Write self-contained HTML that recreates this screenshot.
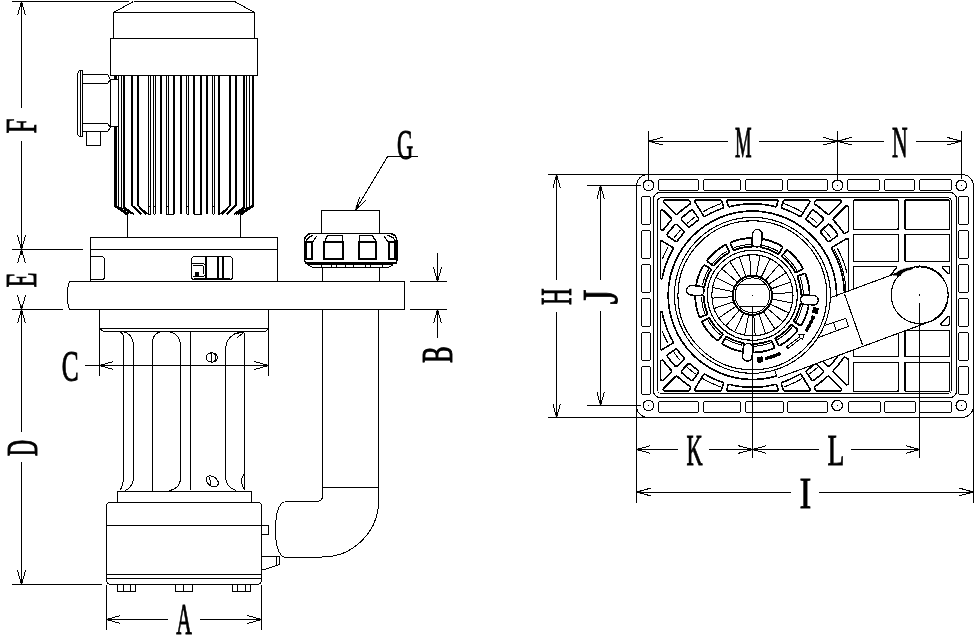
<!DOCTYPE html>
<html><head><meta charset="utf-8"><title>Pump dimensions</title>
<style>
html,body{margin:0;padding:0;background:#fff;}
body{width:976px;height:640px;overflow:hidden;font-family:"Liberation Serif",serif;}
svg{display:block;will-change:transform;filter:grayscale(1);}
text{font-family:"Liberation Serif",serif;}
</style></head><body>
<svg width="976" height="640" viewBox="0 0 976 640" fill="none" stroke="#000" stroke-linecap="butt" stroke-linejoin="round" shape-rendering="crispEdges">
<rect x="0" y="0" width="976" height="640" fill="#fff" stroke="none"/>
<g id="leftview">
<path d="M133.5,1.5 L234.5,1.5 L254.5,12.5 L254.5,38.5 M113.5,38.5 L113.5,12.5 L133.5,1.5 M113.5,12.5 L254.5,12.5" stroke-width="1.0" fill="none" />
<rect x="110.50" y="38.50" width="147.00" height="37.00" rx="0" stroke-width="1" fill="none"/>
<line x1="148.50" y1="75.00" x2="148.50" y2="214.30" stroke-width="1"/>
<line x1="150.50" y1="75.00" x2="150.50" y2="214.30" stroke-width="1"/>
<line x1="148.70" y1="206.50" x2="150.60" y2="206.50" stroke-width="1"/>
<line x1="148.70" y1="214.50" x2="150.60" y2="214.50" stroke-width="1"/>
<line x1="153.50" y1="75.00" x2="153.50" y2="214.30" stroke-width="1"/>
<line x1="155.50" y1="75.00" x2="155.50" y2="214.30" stroke-width="1"/>
<line x1="153.50" y1="206.50" x2="155.40" y2="206.50" stroke-width="1"/>
<line x1="153.50" y1="214.50" x2="155.40" y2="214.50" stroke-width="1"/>
<line x1="166.50" y1="75.00" x2="166.50" y2="214.30" stroke-width="1"/>
<line x1="168.50" y1="75.00" x2="168.50" y2="214.30" stroke-width="1"/>
<line x1="166.40" y1="206.50" x2="168.50" y2="206.50" stroke-width="1"/>
<line x1="166.40" y1="214.50" x2="168.50" y2="214.50" stroke-width="1"/>
<line x1="186.50" y1="75.00" x2="186.50" y2="214.30" stroke-width="1"/>
<line x1="188.50" y1="75.00" x2="188.50" y2="214.30" stroke-width="1"/>
<line x1="186.50" y1="206.50" x2="188.60" y2="206.50" stroke-width="1"/>
<line x1="186.50" y1="214.50" x2="188.60" y2="214.50" stroke-width="1"/>
<line x1="200.50" y1="75.00" x2="200.50" y2="214.30" stroke-width="1"/>
<line x1="201.50" y1="75.00" x2="201.50" y2="214.30" stroke-width="1"/>
<line x1="200.20" y1="206.50" x2="201.60" y2="206.50" stroke-width="1"/>
<line x1="200.20" y1="214.50" x2="201.60" y2="214.50" stroke-width="1"/>
<line x1="212.50" y1="75.00" x2="212.50" y2="214.30" stroke-width="1"/>
<line x1="214.50" y1="75.00" x2="214.50" y2="214.30" stroke-width="1"/>
<line x1="212.50" y1="206.50" x2="214.40" y2="206.50" stroke-width="1"/>
<line x1="212.50" y1="214.50" x2="214.40" y2="214.50" stroke-width="1"/>
<line x1="218.50" y1="75.00" x2="218.50" y2="214.30" stroke-width="1"/>
<line x1="219.50" y1="75.00" x2="219.50" y2="214.30" stroke-width="1"/>
<line x1="218.10" y1="206.50" x2="219.90" y2="206.50" stroke-width="1"/>
<line x1="218.10" y1="214.50" x2="219.90" y2="214.50" stroke-width="1"/>
<line x1="161.00" y1="75.00" x2="161.00" y2="214.30" stroke-width="2"/>
<line x1="174.00" y1="75.00" x2="174.00" y2="214.30" stroke-width="2"/>
<line x1="181.00" y1="75.00" x2="181.00" y2="214.30" stroke-width="2"/>
<line x1="194.00" y1="75.00" x2="194.00" y2="214.30" stroke-width="2"/>
<line x1="207.00" y1="75.00" x2="207.00" y2="214.30" stroke-width="2"/>
<line x1="168.50" y1="214.50" x2="173.90" y2="214.50" stroke-width="1"/>
<line x1="194.10" y1="214.50" x2="200.20" y2="214.50" stroke-width="1"/>
<path d="M115.30,75 L115.30,206.00 L127.30,214.3" stroke-width="2.4" fill="none" />
<path d="M118.5,75.5 L118.5,206.5 L129.5,214.5" stroke-width="1.0" fill="none" />
<path d="M121.5,75.5 L121.5,207.5 L132.5,214.5" stroke-width="1.0" fill="none" />
<path d="M124.00,75 L124.00,207.50 L134.00,214.3" stroke-width="1.8" fill="none" />
<path d="M132.20,75 L132.20,205.50 L141.20,214.3" stroke-width="1.8" fill="none" />
<path d="M138.00,75 L138.00,205.50 L146.50,214.3" stroke-width="2.0" fill="none" />
<path d="M252.70,75 L252.70,206.00 L240.70,214.3" stroke-width="2.4" fill="none" />
<path d="M249.5,75.5 L249.5,206.5 L238.5,214.5" stroke-width="1.0" fill="none" />
<path d="M246.5,75.5 L246.5,207.5 L236.5,214.5" stroke-width="1.0" fill="none" />
<path d="M244.00,75 L244.00,207.50 L234.00,214.3" stroke-width="1.8" fill="none" />
<path d="M235.80,75 L235.80,205.50 L226.80,214.3" stroke-width="1.8" fill="none" />
<path d="M230.00,75 L230.00,205.50 L221.50,214.3" stroke-width="2.0" fill="none" />
<line x1="144.50" y1="210.50" x2="148.70" y2="214.30" stroke-width="1.0"/>
<line x1="223.50" y1="210.50" x2="219.90" y2="214.30" stroke-width="1.0"/>
<line x1="114.50" y1="206.00" x2="127.00" y2="214.30" stroke-width="1.6"/>
<line x1="253.50" y1="206.00" x2="241.00" y2="214.30" stroke-width="1.6"/>
<line x1="127.50" y1="214.30" x2="127.50" y2="237.60" stroke-width="1"/>
<line x1="240.50" y1="214.30" x2="240.50" y2="237.60" stroke-width="1"/>
<path d="M82.5,70.5 L79.5,70.5 Q77.5,72.5 77.5,75.5 L77.5,132.5 Q77.5,135.5 79.5,136.5 L82.5,136.5 Z" stroke-width="1.0" fill="none" />
<line x1="80.50" y1="71.00" x2="80.50" y2="136.00" stroke-width="1"/>
<path d="M82.5,74.5 L107.5,74.5 L110.5,79.5 L107.5,83.5 L82.5,83.5" stroke-width="1.0" fill="none" />
<path d="M82.5,123.5 L107.5,123.5 L110.5,127.5 L107.5,131.5 L82.5,131.5" stroke-width="1.0" fill="none" />
<rect x="110.50" y="79.50" width="8.00" height="47.00" rx="0" stroke-width="1" fill="#fff"/>
<rect x="86.50" y="131.50" width="14.00" height="14.00" rx="0" stroke-width="1" fill="none"/>
<rect x="90.50" y="237.50" width="187.00" height="44.00" rx="0" stroke-width="1" fill="none"/>
<line x1="90.50" y1="249.50" x2="277.60" y2="249.50" stroke-width="1"/>
<path d="M90.5,256.5 L101.5,256.5 Q104.5,256.5 104.5,259.5 L104.5,276.5 Q104.5,279.5 101.5,279.5 L90.5,279.5" stroke-width="1.0" fill="none" />
<rect x="191.50" y="256.50" width="41.00" height="23.00" rx="3.0" stroke-width="1" fill="none"/>
<line x1="194.00" y1="279.00" x2="230.00" y2="279.00" stroke-width="2"/>
<line x1="206.00" y1="257.00" x2="206.00" y2="279.50" stroke-width="2"/>
<line x1="218.00" y1="257.00" x2="218.00" y2="279.50" stroke-width="2"/>
<line x1="223.00" y1="257.00" x2="223.00" y2="279.50" stroke-width="2"/>
<path d="M191.5,263.5 L203.5,263.5 L205.5,265.5 L205.5,274.5 L203.5,276.5 L192.5,276.5" stroke-width="1.0" fill="none" />
<path d="M192.5,265.5 L202.5,265.5 L203.5,266.5 L203.5,273.5 L202.5,274.5" stroke-width="1.0" fill="none" />
<rect x="194.50" y="271.50" width="4.00" height="5.00" rx="0" stroke-width="0" fill="#000"/>
<path d="M69.5,281.5 L404.5,281.5 L404.5,309.5 L69.5,309.5 L68.5,306.5 L67.5,300.5 L67.5,290.5 L68.5,284.5 Z" stroke-width="1.0" fill="none" />
<rect x="321.50" y="210.50" width="58.00" height="23.00" rx="0" stroke-width="1" fill="none"/>
<line x1="322.50" y1="267.00" x2="322.50" y2="281.20" stroke-width="1"/>
<line x1="379.50" y1="267.00" x2="379.50" y2="281.20" stroke-width="1"/>
<path d="M311,233.5 L390.5,233.5 Q397,234.5 397,242 L397,259 Q397,263.5 393,263.8 L308.5,263.8 Q304.4,263.5 304.4,259 L304.4,242 Q304.4,234.5 311,233.5 Z" stroke-width="1.5" fill="none" />
<line x1="305.00" y1="263.00" x2="396.50" y2="263.00" stroke-width="2"/>
<path d="M307.5,264.5 L312.5,267.5 L388.5,267.5 L393.5,264.5" stroke-width="1.0" fill="none" />
<line x1="321.50" y1="264.00" x2="321.50" y2="267.50" stroke-width="1"/>
<line x1="331.50" y1="264.00" x2="331.50" y2="267.50" stroke-width="1"/>
<line x1="336.50" y1="264.00" x2="336.50" y2="267.50" stroke-width="1"/>
<line x1="345.50" y1="264.00" x2="345.50" y2="267.50" stroke-width="1"/>
<line x1="353.50" y1="264.00" x2="353.50" y2="267.50" stroke-width="1"/>
<line x1="365.50" y1="264.00" x2="365.50" y2="267.50" stroke-width="1"/>
<line x1="370.50" y1="264.00" x2="370.50" y2="267.50" stroke-width="1"/>
<line x1="382.50" y1="264.00" x2="382.50" y2="267.50" stroke-width="1"/>
<rect x="306.00" y="242.00" width="6.00" height="17.00" rx="0" stroke-width="2" fill="none"/>
<rect x="324.00" y="242.00" width="19.00" height="17.00" rx="0" stroke-width="2" fill="none"/>
<rect x="359.00" y="242.00" width="17.00" height="17.00" rx="0" stroke-width="2" fill="none"/>
<rect x="389.00" y="242.00" width="6.00" height="17.00" rx="0" stroke-width="2" fill="none"/>
<path d="M324.5,242.5 L327.5,235.5 L342.5,235.5 L342.5,242.5" stroke-width="1.3" fill="none" />
<path d="M376.5,242.5 L372.5,235.5 L359.5,235.5 L359.5,242.5" stroke-width="1.3" fill="none" />
<path d="M306.5,242.5 Q306.5,236.5 313.5,235.5" stroke-width="1.3" fill="none" />
<path d="M312.5,242.5 L316.5,236.5" stroke-width="1.1" fill="none" />
<path d="M395.5,242.5 Q394.5,236.5 387.5,235.5" stroke-width="1.3" fill="none" />
<path d="M388.5,242.5 L384.5,236.5" stroke-width="1.1" fill="none" />
<path d="M322.5,309.5 L322.5,495.5 Q322.5,501.5 316.5,501.5 L284.5,501.5" stroke-width="1.0" fill="none" />
<path d="M378.8,309.4 L378.8,500 A56.5,57 0 0 1 322.3,557 L284,557" stroke-width="1.0" fill="none" />
<line x1="322.50" y1="487.50" x2="378.80" y2="487.50" stroke-width="1"/>
<path d="M284.5,501.5 Q275.5,505.5 275.5,529.5 Q275.5,553.5 284.5,557.5" stroke-width="1.0" fill="none" />
<line x1="99.50" y1="309.40" x2="99.50" y2="375.50" stroke-width="1"/>
<line x1="268.50" y1="309.40" x2="268.50" y2="375.50" stroke-width="1"/>
<line x1="99.50" y1="328.50" x2="268.40" y2="328.50" stroke-width="1"/>
<path d="M99.5,328.5 L103.5,331.5 L265.5,331.5 L268.5,328.5" stroke-width="1.0" fill="none" />
<path d="M118.5,331.5 Q123.5,332.5 123.5,337.5 L123.5,476.5 Q123.5,486.5 119.5,490.5" stroke-width="1.0" fill="none" />
<path d="M122.5,331.5 Q133.5,333.5 133.5,347.5 L133.5,476.5 Q133.5,486.5 125.5,490.5" stroke-width="1.0" fill="none" />
<path d="M162.5,331.5 Q152.5,332.5 152.5,342.5 L152.5,490.5" stroke-width="1.0" fill="none" />
<path d="M166.5,331.5 Q180.5,332.5 180.5,346.5 L180.5,477.5 Q180.5,488.5 169.5,490.5" stroke-width="1.0" fill="none" />
<line x1="190.50" y1="331.40" x2="190.50" y2="490.00" stroke-width="1"/>
<path d="M244.5,331.5 Q225.5,333.5 225.5,350.5 L225.5,476.5 Q225.5,487.5 236.5,490.5" stroke-width="1.0" fill="none" />
<line x1="244.50" y1="333.00" x2="244.50" y2="490.00" stroke-width="1"/>
<path d="M244.5,473.5 Q238.5,480.5 244.5,489.5" stroke-width="1.0" fill="none" />
<path d="M237.5,337.5 L243.5,332.5 L234.5,333.5" stroke-width="1.0" fill="none" />
<ellipse cx="211.80" cy="357.50" rx="5.60" ry="4.70" stroke-width="1.0" fill="none"/>
<line x1="211.50" y1="353.00" x2="211.50" y2="362.00" stroke-width="1"/>
<path d="M214.5,353.5 Q216.5,357.5 214.5,361.5" stroke-width="1.0" fill="none" />
<ellipse cx="212.20" cy="481.30" rx="6.80" ry="4.60" stroke-width="1.0" fill="none" transform="rotate(35 212.20 481.30)"/>
<line x1="209.50" y1="476.80" x2="211.00" y2="485.20" stroke-width="1.0"/>
<path d="M117.5,502.5 L117.5,491.5 L251.5,491.5 L251.5,502.5" stroke-width="1.0" fill="none" />
<path d="M109.5,502.5 L258.5,502.5 Q261.5,502.5 261.5,506.5 L261.5,579.5 Q261.5,584.5 256.5,584.5 L111.5,584.5 Q106.5,584.5 106.5,579.5 L106.5,506.5 Q106.5,502.5 109.5,502.5 Z" stroke-width="1.0" fill="none" />
<line x1="106.40" y1="525.50" x2="261.40" y2="525.50" stroke-width="1"/>
<line x1="106.40" y1="574.50" x2="261.40" y2="574.50" stroke-width="1"/>
<line x1="106.40" y1="578.50" x2="261.40" y2="578.50" stroke-width="1"/>
<rect x="261.50" y="525.50" width="7.00" height="9.00" rx="0" stroke-width="1" fill="none"/>
<path d="M261.5,556.5 L279.5,556.5 L279.5,564.5 L276.5,565.5 L264.5,569.5 L261.5,569.5" stroke-width="1.0" fill="none" />
<line x1="276.50" y1="557.00" x2="276.50" y2="565.00" stroke-width="1"/>
<rect x="117.50" y="584.50" width="18.00" height="7.00" rx="0" stroke-width="1" fill="none"/>
<line x1="123.50" y1="584.50" x2="123.50" y2="591.20" stroke-width="1"/>
<line x1="130.50" y1="584.50" x2="130.50" y2="591.20" stroke-width="1"/>
<rect x="175.50" y="584.50" width="17.00" height="7.00" rx="0" stroke-width="1" fill="none"/>
<line x1="183.50" y1="584.50" x2="183.50" y2="591.20" stroke-width="1"/>
<rect x="232.50" y="584.50" width="18.00" height="7.00" rx="0" stroke-width="1" fill="none"/>
<line x1="237.50" y1="584.50" x2="237.50" y2="591.20" stroke-width="1"/>
<line x1="245.50" y1="584.50" x2="245.50" y2="591.20" stroke-width="1"/>
</g>
<g id="leftdims">
<line x1="12.00" y1="1.50" x2="128.80" y2="1.50" stroke-width="1"/>
<line x1="12.20" y1="249.50" x2="82.50" y2="249.50" stroke-width="1"/>
<line x1="12.20" y1="309.50" x2="62.80" y2="309.50" stroke-width="1"/>
<line x1="12.20" y1="584.50" x2="101.80" y2="584.50" stroke-width="1"/>
<line x1="21.50" y1="1.50" x2="21.50" y2="108.00" stroke-width="1"/>
<line x1="21.50" y1="141.00" x2="21.50" y2="249.50" stroke-width="1"/>
<path d="M17.5,15.5 L21.5,1.5 L25.5,15.5" stroke-width="1.0" fill="none" />
<path d="M21.5,1.5 L20.5,6.5 L22.5,6.5 Z" stroke-width="0.6" fill="#000" />
<path d="M25.5,235.5 L21.5,249.5 L17.5,235.5" stroke-width="1.0" fill="none" />
<path d="M21.5,249.5 L22.5,245.5 L20.5,245.5 Z" stroke-width="0.6" fill="#000" />
<g transform="translate(21.90,125.95) rotate(-90) scale(0.5995,0.9688)"><text x="0" y="14.76" text-anchor="middle" font-size="45.0" font-weight="normal" stroke="#000" stroke-width="0.75" vector-effect="non-scaling-stroke" stroke-linejoin="miter" fill="#000">F</text></g>
<path d="M17.5,263.5 L21.5,249.5 L25.5,263.5" stroke-width="1.0" fill="none" />
<path d="M21.5,249.5 L20.5,254.5 L22.5,254.5 Z" stroke-width="0.6" fill="#000" />
<path d="M25.5,295.5 L21.5,309.5 L17.5,295.5" stroke-width="1.0" fill="none" />
<path d="M21.5,309.5 L22.5,305.5 L20.5,305.5 Z" stroke-width="0.6" fill="#000" />
<g transform="translate(21.90,280.00) rotate(-90) scale(0.5456,0.9688)"><text x="0" y="14.76" text-anchor="middle" font-size="45.0" font-weight="normal" stroke="#000" stroke-width="0.75" vector-effect="non-scaling-stroke" stroke-linejoin="miter" fill="#000">E</text></g>
<line x1="21.50" y1="309.50" x2="21.50" y2="432.00" stroke-width="1"/>
<line x1="21.50" y1="461.50" x2="21.50" y2="584.30" stroke-width="1"/>
<path d="M17.5,323.5 L21.5,309.5 L25.5,323.5" stroke-width="1.0" fill="none" />
<path d="M21.5,309.5 L20.5,314.5 L22.5,314.5 Z" stroke-width="0.6" fill="#000" />
<path d="M25.5,570.5 L21.5,584.5 L17.5,570.5" stroke-width="1.0" fill="none" />
<path d="M21.5,584.5 L22.5,579.5 L20.5,579.5 Z" stroke-width="0.6" fill="#000" />
<g transform="translate(22.35,448.15) rotate(-90) scale(0.5017,0.9688)"><text x="0" y="14.76" text-anchor="middle" font-size="45.0" font-weight="normal" stroke="#000" stroke-width="0.75" vector-effect="non-scaling-stroke" stroke-linejoin="miter" fill="#000">D</text></g>
<line x1="85.00" y1="365.50" x2="268.40" y2="365.50" stroke-width="1"/>
<path d="M113.5,369.5 L99.5,365.5 L113.5,361.5" stroke-width="1.0" fill="none" />
<path d="M99.5,365.5 L104.5,366.5 L104.5,364.5 Z" stroke-width="0.6" fill="#000" />
<path d="M254.5,361.5 L268.5,365.5 L254.5,369.5" stroke-width="1.0" fill="none" />
<path d="M268.5,365.5 L263.5,364.5 L263.5,366.5 Z" stroke-width="0.6" fill="#000" />
<g transform="translate(70.10,366.75) rotate(0) scale(0.5631,0.9790)"><text x="0" y="14.76" text-anchor="middle" font-size="45.0" font-weight="normal" stroke="#000" stroke-width="0.75" vector-effect="non-scaling-stroke" stroke-linejoin="miter" fill="#000">C</text></g>
<line x1="106.50" y1="585.00" x2="106.50" y2="629.50" stroke-width="1"/>
<line x1="261.50" y1="585.00" x2="261.50" y2="629.50" stroke-width="1"/>
<line x1="106.30" y1="619.50" x2="167.70" y2="619.50" stroke-width="1"/>
<line x1="200.00" y1="619.50" x2="261.40" y2="619.50" stroke-width="1"/>
<path d="M120.5,623.5 L106.5,619.5 L120.5,615.5" stroke-width="1.0" fill="none" />
<path d="M106.5,619.5 L110.5,620.5 L110.5,618.5 Z" stroke-width="0.6" fill="#000" />
<path d="M247.5,615.5 L261.5,619.5 L247.5,623.5" stroke-width="1.0" fill="none" />
<path d="M261.5,619.5 L256.5,618.5 L256.5,620.5 Z" stroke-width="0.6" fill="#000" />
<g transform="translate(184.00,619.85) rotate(0) scale(0.4801,0.9688)"><text x="0" y="14.76" text-anchor="middle" font-size="45.0" font-weight="normal" stroke="#000" stroke-width="0.75" vector-effect="non-scaling-stroke" stroke-linejoin="miter" fill="#000">A</text></g>
<line x1="410.00" y1="281.50" x2="447.00" y2="281.50" stroke-width="1"/>
<line x1="410.00" y1="309.50" x2="447.00" y2="309.50" stroke-width="1"/>
<line x1="437.50" y1="253.00" x2="437.50" y2="281.40" stroke-width="1"/>
<line x1="437.50" y1="309.40" x2="437.50" y2="337.50" stroke-width="1"/>
<path d="M441.5,267.5 L437.5,281.5 L433.5,267.5" stroke-width="1.0" fill="none" />
<path d="M437.5,281.5 L438.5,276.5 L436.5,276.5 Z" stroke-width="0.6" fill="#000" />
<path d="M433.5,323.5 L437.5,309.5 L441.5,323.5" stroke-width="1.0" fill="none" />
<path d="M437.5,309.5 L436.5,313.5 L438.5,313.5 Z" stroke-width="0.6" fill="#000" />
<g transform="translate(437.75,354.75) rotate(-90) scale(0.5531,0.9688)"><text x="0" y="14.76" text-anchor="middle" font-size="45.0" font-weight="normal" stroke="#000" stroke-width="0.75" vector-effect="non-scaling-stroke" stroke-linejoin="miter" fill="#000">B</text></g>
<line x1="388.00" y1="156.50" x2="417.50" y2="156.50" stroke-width="1"/>
<line x1="388.00" y1="156.00" x2="355.60" y2="210.00" stroke-width="1.0"/>
<path d="M365.5,200.5 L355.5,210.5 L359.5,197.5" stroke-width="1.0" fill="none" />
<path d="M355.5,210.5 L358.5,206.5 L356.5,205.5 Z" stroke-width="0.6" fill="#000" />
<g transform="translate(405.00,145.30) rotate(0) scale(0.4986,0.9214)"><text x="0" y="14.76" text-anchor="middle" font-size="45.0" font-weight="normal" stroke="#000" stroke-width="0.75" vector-effect="non-scaling-stroke" stroke-linejoin="miter" fill="#000">G</text></g>
</g>
<g id="plan">
<rect x="636.50" y="174.50" width="337.00" height="243.00" rx="11.5" stroke-width="1" fill="none"/>
<circle cx="648.50" cy="185.40" r="5.30" stroke-width="1.2" fill="none"/>
<rect x="647.90" y="184.80" width="1.20" height="1.20" rx="0" stroke-width="0" fill="#000"/>
<circle cx="837.50" cy="185.40" r="5.30" stroke-width="1.2" fill="none"/>
<rect x="836.90" y="184.80" width="1.20" height="1.20" rx="0" stroke-width="0" fill="#000"/>
<circle cx="961.30" cy="185.40" r="5.30" stroke-width="1.2" fill="none"/>
<rect x="960.70" y="184.80" width="1.20" height="1.20" rx="0" stroke-width="0" fill="#000"/>
<circle cx="648.50" cy="405.50" r="5.30" stroke-width="1.2" fill="none"/>
<rect x="647.90" y="404.90" width="1.20" height="1.20" rx="0" stroke-width="0" fill="#000"/>
<circle cx="837.20" cy="405.50" r="5.30" stroke-width="1.2" fill="none"/>
<rect x="836.60" y="404.90" width="1.20" height="1.20" rx="0" stroke-width="0" fill="#000"/>
<circle cx="961.30" cy="405.50" r="5.30" stroke-width="1.2" fill="none"/>
<rect x="960.70" y="404.90" width="1.20" height="1.20" rx="0" stroke-width="0" fill="#000"/>
<rect x="653.50" y="192.50" width="303.00" height="205.00" rx="6.5" stroke-width="1" fill="none"/>
<rect x="657.50" y="197.50" width="294.00" height="196.00" rx="4" stroke-width="1" fill="none"/>
<rect x="658.50" y="179.50" width="40.00" height="11.00" rx="1.6" stroke-width="1" fill="none"/>
<rect x="703.50" y="179.50" width="37.00" height="11.00" rx="1.6" stroke-width="1" fill="none"/>
<rect x="745.50" y="179.50" width="37.00" height="11.00" rx="1.6" stroke-width="1" fill="none"/>
<rect x="787.50" y="179.50" width="40.00" height="11.00" rx="1.6" stroke-width="1" fill="none"/>
<rect x="847.50" y="179.50" width="32.00" height="11.00" rx="1.6" stroke-width="1" fill="none"/>
<rect x="884.50" y="179.50" width="30.00" height="11.00" rx="1.6" stroke-width="1" fill="none"/>
<rect x="919.50" y="179.50" width="32.00" height="11.00" rx="1.6" stroke-width="1" fill="none"/>
<rect x="658.50" y="401.50" width="40.00" height="11.00" rx="1.6" stroke-width="1" fill="none"/>
<rect x="703.50" y="401.50" width="37.00" height="11.00" rx="1.6" stroke-width="1" fill="none"/>
<rect x="745.50" y="401.50" width="38.00" height="11.00" rx="1.6" stroke-width="1" fill="none"/>
<rect x="787.50" y="401.50" width="40.00" height="11.00" rx="1.6" stroke-width="1" fill="none"/>
<rect x="848.50" y="401.50" width="32.00" height="11.00" rx="1.6" stroke-width="1" fill="none"/>
<rect x="884.50" y="401.50" width="31.00" height="11.00" rx="1.6" stroke-width="1" fill="none"/>
<rect x="919.50" y="401.50" width="32.00" height="11.00" rx="1.6" stroke-width="1" fill="none"/>
<rect x="641.50" y="196.50" width="9.00" height="28.00" rx="1.6" stroke-width="1" fill="none"/>
<rect x="958.50" y="196.50" width="10.00" height="28.00" rx="1.6" stroke-width="1" fill="none"/>
<rect x="641.50" y="230.50" width="9.00" height="28.00" rx="1.6" stroke-width="1" fill="none"/>
<rect x="958.50" y="230.50" width="10.00" height="28.00" rx="1.6" stroke-width="1" fill="none"/>
<rect x="641.50" y="264.50" width="9.00" height="28.00" rx="1.6" stroke-width="1" fill="none"/>
<rect x="958.50" y="264.50" width="10.00" height="28.00" rx="1.6" stroke-width="1" fill="none"/>
<rect x="641.50" y="298.50" width="9.00" height="28.00" rx="1.6" stroke-width="1" fill="none"/>
<rect x="958.50" y="298.50" width="10.00" height="28.00" rx="1.6" stroke-width="1" fill="none"/>
<rect x="641.50" y="332.50" width="9.00" height="28.00" rx="1.6" stroke-width="1" fill="none"/>
<rect x="958.50" y="332.50" width="10.00" height="28.00" rx="1.6" stroke-width="1" fill="none"/>
<rect x="641.50" y="366.50" width="9.00" height="28.00" rx="1.6" stroke-width="1" fill="none"/>
<rect x="958.50" y="366.50" width="10.00" height="28.00" rx="1.6" stroke-width="1" fill="none"/>
<path d="M898.30,201.10 L898.26,200.76 L898.13,200.45 L897.92,200.18 L897.65,199.97 L897.34,199.84 L897.00,199.80 L854.80,199.80 L854.46,199.84 L854.15,199.97 L853.88,200.18 L853.67,200.45 L853.54,200.76 L853.50,201.10 L853.50,228.20 L853.54,228.54 L853.67,228.85 L853.88,229.12 L854.15,229.33 L854.46,229.46 L854.80,229.50 L897.00,229.50 L897.34,229.46 L897.65,229.33 L897.92,229.12 L898.13,228.85 L898.26,228.54 L898.30,228.20 Z M898.30,235.60 L898.26,235.26 L898.13,234.95 L897.92,234.68 L897.65,234.47 L897.34,234.34 L897.00,234.30 L854.80,234.30 L854.46,234.34 L854.15,234.47 L853.88,234.68 L853.67,234.95 L853.54,235.26 L853.50,235.60 L853.50,260.30 L853.54,260.64 L853.67,260.95 L853.88,261.22 L854.15,261.43 L854.46,261.56 L854.80,261.60 L897.00,261.60 L897.34,261.56 L897.65,261.43 L897.92,261.22 L898.13,260.95 L898.26,260.64 L898.30,260.30 Z M896.37,268.65 L896.59,268.38 L896.73,268.07 L896.78,267.73 L896.74,267.39 L896.62,267.07 L896.41,266.79 L896.14,266.58 L895.82,266.45 L895.48,266.40 L854.80,266.40 L854.46,266.44 L854.15,266.57 L853.88,266.78 L853.67,267.05 L853.54,267.36 L853.50,267.70 L853.50,292.70 L853.54,293.04 L853.67,293.35 L853.88,293.62 L854.15,293.83 L854.46,293.96 L854.80,294.00 L883.27,294.00 L883.60,293.96 L883.91,293.83 L884.18,293.63 L884.39,293.37 L884.52,293.07 L884.57,292.74 L884.57,292.72 L884.58,292.68 L884.80,290.43 L884.80,290.38 L885.17,288.15 L885.18,288.11 L885.69,285.91 L885.71,285.87 L886.36,283.71 L886.38,283.67 L887.17,281.55 L887.19,281.51 L888.12,279.45 L888.14,279.41 L889.21,277.42 L889.23,277.38 L890.42,275.46 L890.44,275.43 L891.76,273.59 L891.79,273.56 L893.22,271.81 L893.25,271.78 L894.80,270.13 L894.83,270.10 Z M854.80,298.80 L854.46,298.84 L854.15,298.97 L853.88,299.18 L853.67,299.45 L853.54,299.76 L853.50,300.10 L853.50,323.90 L853.54,324.24 L853.67,324.55 L853.88,324.82 L854.15,325.03 L854.46,325.16 L854.80,325.20 L897.00,325.20 L897.34,325.16 L897.65,325.03 L897.92,324.82 L898.13,324.55 L898.26,324.24 L898.30,323.90 L898.30,323.56 L898.24,323.19 L898.08,322.84 L897.82,322.56 L896.51,321.48 L896.48,321.45 L894.83,319.90 L894.80,319.87 L893.25,318.22 L893.22,318.19 L891.79,316.44 L891.76,316.41 L890.44,314.57 L890.42,314.54 L889.23,312.62 L889.21,312.58 L888.14,310.59 L888.12,310.55 L887.19,308.49 L887.17,308.45 L886.38,306.33 L886.36,306.29 L885.71,304.13 L885.69,304.09 L885.18,301.89 L885.17,301.85 L884.85,299.89 L884.74,299.54 L884.54,299.24 L884.26,299.00 L883.93,298.85 L883.57,298.80 Z M898.30,331.70 L898.26,331.36 L898.13,331.05 L897.92,330.78 L897.65,330.57 L897.34,330.44 L897.00,330.40 L854.80,330.40 L854.46,330.44 L854.15,330.57 L853.88,330.78 L853.67,331.05 L853.54,331.36 L853.50,331.70 L853.50,355.40 L853.54,355.74 L853.67,356.05 L853.88,356.32 L854.15,356.53 L854.46,356.66 L854.80,356.70 L897.00,356.70 L897.34,356.66 L897.65,356.53 L897.92,356.32 L898.13,356.05 L898.26,355.74 L898.30,355.40 Z M898.30,363.70 L898.26,363.36 L898.13,363.05 L897.92,362.78 L897.65,362.57 L897.34,362.44 L897.00,362.40 L854.80,362.40 L854.46,362.44 L854.15,362.57 L853.88,362.78 L853.67,363.05 L853.54,363.36 L853.50,363.70 L853.50,390.20 L853.54,390.54 L853.67,390.85 L853.88,391.12 L854.15,391.33 L854.46,391.46 L854.80,391.50 L897.00,391.50 L897.34,391.46 L897.65,391.33 L897.92,391.12 L898.13,390.85 L898.26,390.54 L898.30,390.20 Z M949.50,201.10 L949.46,200.76 L949.33,200.45 L949.12,200.18 L948.85,199.97 L948.54,199.84 L948.20,199.80 L906.10,199.80 L905.76,199.84 L905.45,199.97 L905.18,200.18 L904.97,200.45 L904.84,200.76 L904.80,201.10 L904.80,228.20 L904.84,228.54 L904.97,228.85 L905.18,229.12 L905.45,229.33 L905.76,229.46 L906.10,229.50 L948.20,229.50 L948.54,229.46 L948.85,229.33 L949.12,229.12 L949.33,228.85 L949.46,228.54 L949.50,228.20 Z M949.50,235.60 L949.46,235.26 L949.33,234.95 L949.12,234.68 L948.85,234.47 L948.54,234.34 L948.20,234.30 L906.10,234.30 L905.76,234.34 L905.45,234.47 L905.18,234.68 L904.97,234.95 L904.84,235.26 L904.80,235.60 L904.80,260.30 L904.84,260.64 L904.97,260.95 L905.18,261.22 L905.45,261.43 L905.76,261.56 L906.10,261.60 L948.20,261.60 L948.54,261.56 L948.85,261.43 L949.12,261.22 L949.33,260.95 L949.46,260.64 L949.50,260.30 Z M943.92,266.40 L943.58,266.45 L943.26,266.58 L942.99,266.79 L942.78,267.07 L942.66,267.39 L942.62,267.73 L942.67,268.07 L942.81,268.38 L943.03,268.65 L944.57,270.10 L944.60,270.13 L946.15,271.78 L946.18,271.81 L947.20,273.05 L947.45,273.29 L947.77,273.45 L948.11,273.52 L948.47,273.49 L948.80,273.37 L949.09,273.17 L949.31,272.90 L949.45,272.57 L949.50,272.22 L949.50,267.70 L949.46,267.36 L949.33,267.05 L949.12,266.78 L948.85,266.57 L948.54,266.44 L948.20,266.40 Z M941.17,322.90 L940.93,323.15 L940.76,323.47 L940.69,323.81 L940.72,324.17 L940.84,324.50 L941.04,324.79 L941.32,325.01 L941.64,325.15 L941.99,325.20 L948.20,325.20 L948.54,325.16 L948.85,325.03 L949.12,324.82 L949.33,324.55 L949.46,324.24 L949.50,323.90 L949.50,317.78 L949.45,317.43 L949.31,317.10 L949.09,316.83 L948.80,316.63 L948.47,316.51 L948.11,316.48 L947.77,316.55 L947.45,316.71 L947.20,316.95 L946.18,318.19 L946.15,318.22 L944.60,319.87 L944.57,319.90 L942.92,321.45 L942.89,321.48 Z M949.50,331.70 L949.46,331.36 L949.33,331.05 L949.12,330.78 L948.85,330.57 L948.54,330.44 L948.20,330.40 L906.10,330.40 L905.76,330.44 L905.45,330.57 L905.18,330.78 L904.97,331.05 L904.84,331.36 L904.80,331.70 L904.80,355.40 L904.84,355.74 L904.97,356.05 L905.18,356.32 L905.45,356.53 L905.76,356.66 L906.10,356.70 L948.20,356.70 L948.54,356.66 L948.85,356.53 L949.12,356.32 L949.33,356.05 L949.46,355.74 L949.50,355.40 Z M949.50,363.70 L949.46,363.36 L949.33,363.05 L949.12,362.78 L948.85,362.57 L948.54,362.44 L948.20,362.40 L906.10,362.40 L905.76,362.44 L905.45,362.57 L905.18,362.78 L904.97,363.05 L904.84,363.36 L904.80,363.70 L904.80,390.20 L904.84,390.54 L904.97,390.85 L905.18,391.12 L905.45,391.33 L905.76,391.46 L906.10,391.50 L948.20,391.50 L948.54,391.46 L948.85,391.33 L949.12,391.12 L949.33,390.85 L949.46,390.54 L949.50,390.20 Z" stroke-width="1.4" fill="none" />
<path d="M728.10,205.86 L728.22,206.14 L728.41,206.39 L728.65,206.58 L728.94,206.70 L729.25,206.74 L729.56,206.70 L730.36,206.49 L730.37,206.49 L732.33,206.03 L732.34,206.03 L734.31,205.61 L734.32,205.60 L736.30,205.23 L736.31,205.23 L738.29,204.89 L738.30,204.89 L740.29,204.60 L740.31,204.60 L742.30,204.36 L742.31,204.36 L744.31,204.16 L744.33,204.16 L746.33,204.00 L746.34,204.00 L748.35,203.89 L748.36,203.89 L750.37,203.82 L750.38,203.82 L752.39,203.80 L752.41,203.80 L754.42,203.82 L754.43,203.82 L756.44,203.89 L756.45,203.89 L758.46,204.00 L758.47,204.00 L760.47,204.16 L760.49,204.16 L762.49,204.36 L762.50,204.36 L764.49,204.60 L764.51,204.60 L766.50,204.89 L766.51,204.89 L768.49,205.23 L768.50,205.23 L770.48,205.60 L770.49,205.61 L772.46,206.03 L772.47,206.03 L774.43,206.49 L774.44,206.49 L775.24,206.70 L775.55,206.74 L775.86,206.70 L776.15,206.58 L776.39,206.39 L776.58,206.14 L776.70,205.86 L777.88,201.51 L777.92,201.20 L777.88,200.89 L777.76,200.60 L777.57,200.35 L777.32,200.16 L777.03,200.04 L776.72,200.00 L728.08,200.00 L727.77,200.04 L727.48,200.16 L727.23,200.35 L727.04,200.60 L726.92,200.89 L726.88,201.20 L726.92,201.51 Z M781.47,206.35 L781.40,206.75 L781.43,207.16 L781.56,207.56 L781.79,207.90 L782.11,208.17 L782.48,208.36 L782.69,208.43 L783.54,208.73 L784.39,209.04 L785.23,209.36 L786.07,209.68 L786.91,210.02 L787.75,210.36 L788.58,210.71 L789.41,211.07 L790.23,211.44 L791.06,211.81 L791.87,212.20 L792.69,212.59 L793.50,212.99 L794.30,213.40 L795.11,213.81 L795.90,214.24 L796.70,214.67 L797.49,215.11 L798.27,215.55 L799.05,216.01 L799.26,216.13 L799.64,216.29 L800.05,216.35 L800.46,216.31 L800.84,216.16 L801.18,215.91 L801.44,215.59 L809.53,202.44 L809.70,202.05 L809.77,201.63 L809.72,201.21 L809.56,200.82 L809.31,200.48 L808.98,200.22 L808.59,200.06 L808.17,200.00 L784.71,200.00 L784.31,200.05 L783.94,200.20 L783.62,200.43 L783.36,200.74 L783.19,201.10 Z M806.54,217.98 L806.33,218.37 L806.24,218.80 L806.25,219.24 L806.38,219.66 L806.61,220.03 L806.93,220.33 L807.36,220.65 L807.81,220.98 L808.25,221.31 L808.69,221.65 L809.13,221.98 L809.56,222.32 L810.00,222.67 L810.43,223.01 L810.86,223.36 L811.29,223.71 L811.71,224.06 L812.14,224.41 L812.56,224.77 L812.98,225.13 L813.40,225.49 L813.81,225.86 L814.22,226.23 L814.63,226.60 L814.99,226.84 L815.41,226.99 L815.84,227.03 L816.27,226.96 L816.67,226.77 L817.01,226.50 L822.97,220.15 L823.23,219.79 L823.38,219.37 L823.43,218.92 L823.35,218.48 L823.16,218.08 L822.87,217.73 L822.77,217.64 L822.76,217.63 L822.30,217.22 L822.29,217.21 L821.83,216.80 L821.83,216.80 L821.37,216.39 L821.36,216.38 L820.89,215.98 L820.89,215.97 L820.42,215.57 L820.41,215.57 L819.94,215.17 L819.94,215.16 L819.46,214.77 L819.46,214.76 L818.98,214.37 L818.97,214.36 L818.50,213.97 L818.49,213.97 L818.01,213.58 L818.00,213.57 L817.52,213.19 L817.52,213.18 L817.03,212.80 L817.03,212.80 L816.54,212.42 L816.53,212.41 L816.04,212.04 L816.04,212.03 L815.55,211.66 L815.54,211.66 L815.05,211.29 L815.04,211.28 L814.55,210.91 L814.54,210.91 L814.04,210.54 L814.03,210.54 L813.92,210.45 L813.52,210.24 L813.09,210.14 L812.64,210.16 L812.21,210.29 L811.83,210.53 L811.53,210.86 Z M703.36,215.59 L703.62,215.91 L703.96,216.16 L704.34,216.31 L704.75,216.35 L705.16,216.29 L705.54,216.13 L705.73,216.01 L706.52,215.56 L707.30,215.11 L708.09,214.67 L708.88,214.24 L709.68,213.82 L710.48,213.40 L711.29,213.00 L712.10,212.60 L712.91,212.21 L713.73,211.82 L714.55,211.45 L715.38,211.08 L716.21,210.72 L717.04,210.37 L717.87,210.02 L718.71,209.69 L719.55,209.36 L720.40,209.04 L721.25,208.73 L722.10,208.43 L722.32,208.36 L722.69,208.17 L723.01,207.90 L723.24,207.56 L723.37,207.16 L723.40,206.75 L723.33,206.35 L721.61,201.10 L721.44,200.74 L721.18,200.43 L720.86,200.20 L720.49,200.05 L720.09,200.00 L696.63,200.00 L696.21,200.06 L695.82,200.22 L695.49,200.48 L695.24,200.82 L695.08,201.21 L695.03,201.63 L695.10,202.05 L695.27,202.44 Z M681.93,217.73 L681.64,218.08 L681.45,218.48 L681.37,218.92 L681.42,219.37 L681.57,219.79 L681.83,220.15 L687.79,226.50 L688.13,226.77 L688.53,226.96 L688.96,227.03 L689.39,226.99 L689.81,226.84 L690.17,226.60 L690.57,226.23 L690.98,225.87 L691.40,225.50 L691.81,225.14 L692.23,224.78 L692.66,224.42 L693.08,224.07 L693.50,223.71 L693.93,223.36 L694.36,223.02 L694.79,222.67 L695.23,222.33 L695.66,221.99 L696.10,221.65 L696.54,221.32 L696.99,220.99 L697.43,220.66 L697.87,220.33 L698.19,220.03 L698.42,219.66 L698.55,219.24 L698.56,218.80 L698.47,218.37 L698.26,217.98 L693.27,210.86 L692.97,210.53 L692.59,210.29 L692.16,210.16 L691.71,210.14 L691.28,210.24 L690.88,210.45 L690.77,210.54 L690.76,210.54 L690.26,210.91 L690.25,210.91 L689.76,211.28 L689.75,211.29 L689.26,211.66 L689.25,211.66 L688.76,212.03 L688.76,212.04 L688.27,212.41 L688.26,212.42 L687.77,212.80 L687.77,212.80 L687.28,213.18 L687.28,213.19 L686.80,213.57 L686.79,213.58 L686.31,213.97 L686.30,213.97 L685.83,214.36 L685.82,214.37 L685.34,214.76 L685.34,214.77 L684.86,215.16 L684.86,215.17 L684.39,215.57 L684.38,215.57 L683.91,215.97 L683.91,215.98 L683.44,216.38 L683.43,216.39 L682.97,216.80 L682.97,216.80 L682.51,217.21 L682.50,217.22 L682.04,217.63 L682.03,217.64 Z M833.72,218.22 L833.47,218.54 L833.31,218.92 L833.25,219.32 L833.30,219.72 L833.44,220.10 L833.68,220.44 L833.68,220.44 L834.29,221.11 L834.89,221.78 L835.50,222.46 L836.09,223.15 L836.68,223.84 L837.27,224.53 L837.84,225.23 L838.42,225.94 L838.98,226.65 L839.55,227.36 L840.10,228.08 L840.65,228.80 L841.19,229.53 L841.73,230.26 L842.26,231.00 L842.79,231.74 L843.31,232.48 L843.44,232.68 L843.72,232.99 L844.07,233.22 L844.46,233.35 L844.87,233.37 L845.28,233.29 L845.65,233.11 L847.69,231.75 L847.98,231.50 L848.21,231.17 L848.35,230.81 L848.40,230.42 L848.40,207.41 L848.35,206.99 L848.19,206.61 L847.93,206.27 L847.60,206.02 L847.21,205.86 L846.80,205.81 L846.39,205.86 L846.00,206.02 L845.67,206.27 Z M814.59,202.05 L814.41,202.42 L814.33,202.83 L814.35,203.24 L814.48,203.63 L814.71,203.98 L815.02,204.26 L815.21,204.39 L815.95,204.90 L816.69,205.43 L817.43,205.96 L818.16,206.50 L818.89,207.04 L819.61,207.59 L820.33,208.15 L821.04,208.71 L821.75,209.27 L822.46,209.85 L823.16,210.43 L823.85,211.01 L824.54,211.60 L825.23,212.20 L825.91,212.80 L826.58,213.40 L827.26,214.02 L827.26,214.02 L827.60,214.26 L827.98,214.40 L828.38,214.45 L828.78,214.39 L829.16,214.23 L829.48,213.98 L840.73,202.73 L840.98,202.40 L841.14,202.01 L841.19,201.60 L841.14,201.19 L840.98,200.80 L840.73,200.47 L840.39,200.21 L840.01,200.05 L839.59,200.00 L816.81,200.00 L816.42,200.05 L816.06,200.19 L815.74,200.42 L815.48,200.71 Z M832.36,247.25 L832.10,247.46 L831.90,247.73 L831.77,248.05 L831.73,248.38 L831.78,248.72 L831.91,249.03 L832.30,249.70 L832.31,249.71 L833.31,251.51 L833.32,251.53 L834.28,253.35 L834.28,253.36 L835.20,255.20 L835.21,255.22 L836.09,257.08 L836.09,257.09 L836.93,258.98 L836.93,258.99 L837.72,260.89 L837.73,260.91 L838.48,262.82 L838.48,262.84 L839.19,264.77 L839.19,264.79 L839.85,266.74 L839.86,266.75 L840.48,268.71 L840.48,268.73 L841.05,270.71 L841.06,270.72 L841.58,272.71 L841.59,272.73 L842.07,274.73 L842.07,274.74 L842.51,276.75 L842.51,276.77 L842.91,278.79 L842.91,278.80 L843.26,280.83 L843.26,280.85 L843.56,282.89 L843.56,282.90 L843.82,284.94 L843.82,284.96 L844.03,287.01 L844.03,287.02 L844.19,289.08 L844.19,289.09 L844.31,291.15 L844.31,291.16 L844.38,293.22 L844.38,293.23 L844.40,295.29 L844.40,295.31 L844.38,297.37 L844.38,297.38 L844.31,299.44 L844.31,299.45 L844.19,301.51 L844.19,301.52 L844.03,303.58 L844.03,303.59 L843.82,305.64 L843.82,305.66 L843.56,307.70 L843.56,307.71 L843.26,309.75 L843.26,309.77 L842.91,311.80 L842.91,311.81 L842.51,313.83 L842.51,313.85 L842.07,315.86 L842.07,315.87 L841.59,317.87 L841.58,317.89 L841.06,319.88 L841.05,319.89 L840.48,321.87 L840.48,321.89 L839.86,323.85 L839.85,323.86 L839.19,325.81 L839.19,325.83 L838.48,327.76 L838.48,327.78 L837.73,329.69 L837.72,329.71 L836.93,331.61 L836.93,331.62 L836.09,333.51 L836.09,333.52 L835.21,335.38 L835.20,335.40 L834.28,337.24 L834.28,337.25 L833.32,339.07 L833.31,339.09 L832.31,340.89 L832.30,340.90 L831.91,341.57 L831.78,341.88 L831.73,342.22 L831.77,342.55 L831.90,342.87 L832.10,343.14 L832.36,343.35 L846.43,351.80 L846.74,351.94 L847.08,351.98 L847.42,351.94 L847.74,351.82 L848.01,351.61 L848.22,351.34 L848.35,351.02 L848.40,350.68 L848.40,239.92 L848.35,239.58 L848.22,239.26 L848.01,238.99 L847.74,238.78 L847.42,238.66 L847.08,238.62 L846.74,238.66 L846.43,238.80 Z M821.10,357.53 L820.86,357.89 L820.71,358.31 L820.67,358.74 L820.74,359.17 L820.93,359.57 L821.20,359.91 L827.55,365.87 L827.91,366.13 L828.33,366.28 L828.78,366.33 L829.22,366.25 L829.62,366.06 L829.97,365.77 L830.06,365.67 L830.07,365.66 L830.48,365.20 L830.49,365.19 L830.90,364.73 L830.90,364.73 L831.31,364.27 L831.32,364.26 L831.72,363.79 L831.73,363.79 L832.13,363.32 L832.13,363.31 L832.53,362.84 L832.54,362.84 L832.93,362.36 L832.94,362.36 L833.33,361.88 L833.34,361.87 L833.73,361.40 L833.73,361.39 L834.12,360.91 L834.13,360.90 L834.51,360.42 L834.52,360.42 L834.90,359.93 L834.90,359.93 L835.28,359.44 L835.29,359.43 L835.66,358.94 L835.67,358.94 L836.04,358.45 L836.04,358.44 L836.41,357.95 L836.42,357.94 L836.79,357.45 L836.79,357.44 L837.16,356.94 L837.16,356.93 L837.25,356.82 L837.46,356.42 L837.56,355.99 L837.54,355.54 L837.41,355.11 L837.17,354.73 L836.84,354.43 L829.72,349.44 L829.33,349.23 L828.90,349.14 L828.46,349.15 L828.04,349.28 L827.67,349.51 L827.37,349.83 L827.05,350.26 L826.72,350.71 L826.39,351.15 L826.05,351.59 L825.72,352.03 L825.38,352.46 L825.03,352.90 L824.69,353.33 L824.34,353.76 L823.99,354.19 L823.64,354.61 L823.29,355.04 L822.93,355.46 L822.57,355.88 L822.21,356.30 L821.84,356.71 L821.47,357.12 Z M821.20,230.69 L820.93,231.03 L820.74,231.43 L820.67,231.86 L820.71,232.29 L820.86,232.71 L821.10,233.07 L821.47,233.47 L821.83,233.88 L822.20,234.30 L822.56,234.71 L822.92,235.13 L823.28,235.56 L823.63,235.98 L823.99,236.40 L824.34,236.83 L824.68,237.26 L825.03,237.69 L825.37,238.13 L825.71,238.56 L826.05,239.00 L826.38,239.44 L826.71,239.89 L827.04,240.33 L827.37,240.77 L827.67,241.09 L828.04,241.32 L828.46,241.45 L828.90,241.46 L829.33,241.37 L829.72,241.16 L836.84,236.17 L837.17,235.87 L837.41,235.49 L837.54,235.06 L837.56,234.61 L837.46,234.18 L837.25,233.78 L837.16,233.67 L837.16,233.66 L836.79,233.16 L836.79,233.15 L836.42,232.66 L836.41,232.65 L836.04,232.16 L836.04,232.15 L835.67,231.66 L835.66,231.66 L835.29,231.17 L835.28,231.16 L834.90,230.67 L834.90,230.67 L834.52,230.18 L834.51,230.18 L834.13,229.70 L834.12,229.69 L833.73,229.21 L833.73,229.20 L833.34,228.73 L833.33,228.72 L832.94,228.24 L832.93,228.24 L832.54,227.76 L832.53,227.76 L832.13,227.29 L832.13,227.28 L831.73,226.81 L831.72,226.81 L831.32,226.34 L831.31,226.33 L830.90,225.87 L830.90,225.87 L830.49,225.41 L830.48,225.40 L830.07,224.94 L830.06,224.93 L829.97,224.83 L829.62,224.54 L829.22,224.35 L828.78,224.27 L828.33,224.32 L827.91,224.47 L827.55,224.73 Z M815.02,386.34 L814.71,386.62 L814.48,386.97 L814.35,387.36 L814.33,387.77 L814.41,388.18 L814.59,388.55 L815.75,390.29 L816.00,390.58 L816.33,390.81 L816.69,390.95 L817.08,391.00 L839.99,391.00 L840.41,390.95 L840.79,390.79 L841.13,390.53 L841.38,390.20 L841.54,389.81 L841.59,389.40 L841.54,388.99 L841.38,388.60 L841.13,388.27 L829.48,376.62 L829.16,376.37 L828.78,376.21 L828.38,376.15 L827.98,376.20 L827.60,376.34 L827.27,376.57 L826.59,377.19 L825.92,377.79 L825.24,378.40 L824.55,378.99 L823.86,379.58 L823.17,380.17 L822.47,380.74 L821.76,381.32 L821.05,381.88 L820.34,382.45 L819.62,383.00 L818.90,383.55 L818.17,384.09 L817.44,384.63 L816.70,385.16 L815.96,385.69 L815.22,386.21 Z M833.68,370.16 L833.44,370.50 L833.30,370.88 L833.25,371.28 L833.31,371.68 L833.47,372.06 L833.72,372.38 L845.67,384.33 L846.00,384.58 L846.39,384.74 L846.80,384.79 L847.21,384.74 L847.60,384.58 L847.93,384.33 L848.19,383.99 L848.35,383.61 L848.40,383.19 L848.40,360.18 L848.35,359.79 L848.21,359.43 L847.98,359.10 L847.69,358.85 L845.65,357.49 L845.28,357.31 L844.87,357.23 L844.46,357.25 L844.07,357.38 L843.72,357.61 L843.44,357.92 L843.31,358.11 L842.80,358.85 L842.27,359.59 L841.74,360.33 L841.20,361.06 L840.66,361.79 L840.11,362.51 L839.55,363.23 L838.99,363.94 L838.43,364.65 L837.85,365.36 L837.27,366.06 L836.69,366.75 L836.10,367.44 L835.50,368.13 L834.90,368.81 L834.30,369.48 L833.68,370.16 Z M776.83,385.23 L776.71,384.94 L776.52,384.69 L776.28,384.50 L775.99,384.38 L775.68,384.34 L775.37,384.38 L774.56,384.59 L774.55,384.59 L772.58,385.06 L772.57,385.06 L770.59,385.48 L770.58,385.49 L768.59,385.86 L768.58,385.87 L766.59,386.20 L766.57,386.20 L764.57,386.49 L764.56,386.49 L762.56,386.74 L762.54,386.74 L760.53,386.94 L760.52,386.94 L758.50,387.10 L758.49,387.10 L756.47,387.21 L756.46,387.21 L754.44,387.28 L754.43,387.28 L752.41,387.30 L752.39,387.30 L750.37,387.28 L750.36,387.28 L748.34,387.21 L748.33,387.21 L746.31,387.10 L746.30,387.10 L744.28,386.94 L744.27,386.94 L742.26,386.74 L742.24,386.74 L740.24,386.49 L740.23,386.49 L738.23,386.20 L738.21,386.20 L736.22,385.87 L736.21,385.86 L734.22,385.49 L734.21,385.48 L732.23,385.06 L732.22,385.06 L730.25,384.59 L730.24,384.59 L729.43,384.38 L729.12,384.34 L728.81,384.38 L728.52,384.50 L728.28,384.69 L728.09,384.94 L727.97,385.23 L726.81,389.49 L726.77,389.80 L726.81,390.11 L726.93,390.40 L727.12,390.65 L727.37,390.84 L727.66,390.96 L727.97,391.00 L776.83,391.00 L777.14,390.96 L777.43,390.84 L777.68,390.65 L777.87,390.40 L777.99,390.11 L778.03,389.80 L777.99,389.49 Z M705.54,374.47 L705.16,374.31 L704.75,374.25 L704.34,374.29 L703.96,374.44 L703.62,374.69 L703.36,375.01 L695.03,388.56 L694.85,388.95 L694.79,389.37 L694.84,389.79 L694.99,390.18 L695.24,390.52 L695.58,390.78 L695.97,390.94 L696.39,391.00 L719.96,391.00 L720.36,390.95 L720.73,390.80 L721.05,390.57 L721.31,390.26 L721.48,389.90 L723.33,384.25 L723.40,383.85 L723.37,383.44 L723.24,383.04 L723.01,382.70 L722.69,382.43 L722.32,382.24 L722.11,382.17 L721.26,381.87 L720.41,381.56 L719.57,381.24 L718.73,380.92 L717.89,380.58 L717.05,380.24 L716.22,379.89 L715.39,379.53 L714.57,379.16 L713.74,378.79 L712.93,378.40 L712.11,378.01 L711.30,377.61 L710.50,377.20 L709.69,376.79 L708.90,376.36 L708.10,375.93 L707.31,375.49 L706.53,375.05 L705.75,374.59 Z M681.83,370.45 L681.57,370.81 L681.42,371.23 L681.37,371.68 L681.45,372.12 L681.64,372.52 L681.93,372.87 L682.03,372.96 L682.04,372.97 L682.50,373.38 L682.51,373.39 L682.97,373.80 L682.97,373.80 L683.43,374.21 L683.44,374.22 L683.91,374.62 L683.91,374.63 L684.38,375.03 L684.39,375.03 L684.86,375.43 L684.86,375.44 L685.34,375.83 L685.34,375.84 L685.82,376.23 L685.83,376.24 L686.30,376.63 L686.31,376.63 L686.79,377.02 L686.80,377.03 L687.28,377.41 L687.28,377.42 L687.77,377.80 L687.77,377.80 L688.26,378.18 L688.27,378.19 L688.76,378.56 L688.76,378.57 L689.25,378.94 L689.26,378.94 L689.75,379.31 L689.76,379.32 L690.25,379.69 L690.26,379.69 L690.76,380.06 L690.77,380.06 L690.88,380.15 L691.28,380.36 L691.71,380.46 L692.16,380.44 L692.59,380.31 L692.97,380.07 L693.27,379.74 L698.26,372.62 L698.47,372.23 L698.56,371.80 L698.55,371.36 L698.42,370.94 L698.19,370.57 L697.87,370.27 L697.44,369.95 L696.99,369.62 L696.55,369.29 L696.11,368.95 L695.67,368.62 L695.24,368.28 L694.80,367.93 L694.37,367.59 L693.94,367.24 L693.51,366.89 L693.09,366.54 L692.66,366.19 L692.24,365.83 L691.82,365.47 L691.40,365.11 L690.99,364.74 L690.58,364.37 L690.17,364.00 L689.81,363.76 L689.39,363.61 L688.96,363.57 L688.53,363.64 L688.13,363.83 L687.79,364.10 Z M782.48,382.24 L782.11,382.43 L781.79,382.70 L781.56,383.04 L781.43,383.44 L781.40,383.85 L781.47,384.25 L783.32,389.90 L783.49,390.26 L783.75,390.57 L784.07,390.80 L784.44,390.95 L784.84,391.00 L808.41,391.00 L808.83,390.94 L809.22,390.78 L809.56,390.52 L809.81,390.18 L809.96,389.79 L810.01,389.37 L809.95,388.95 L809.77,388.56 L801.44,375.01 L801.18,374.69 L800.84,374.44 L800.46,374.29 L800.05,374.25 L799.64,374.31 L799.26,374.47 L799.07,374.59 L798.28,375.04 L797.50,375.49 L796.71,375.93 L795.92,376.36 L795.12,376.78 L794.32,377.20 L793.51,377.60 L792.70,378.00 L791.89,378.39 L791.07,378.78 L790.25,379.15 L789.42,379.52 L788.59,379.88 L787.76,380.23 L786.93,380.58 L786.09,380.91 L785.25,381.24 L784.40,381.56 L783.55,381.87 L782.70,382.17 Z M806.93,370.27 L806.61,370.57 L806.38,370.94 L806.25,371.36 L806.24,371.80 L806.33,372.23 L806.54,372.62 L811.53,379.74 L811.83,380.07 L812.21,380.31 L812.64,380.44 L813.09,380.46 L813.52,380.36 L813.92,380.15 L814.03,380.06 L814.04,380.06 L814.54,379.69 L814.55,379.69 L815.04,379.32 L815.05,379.31 L815.54,378.94 L815.55,378.94 L816.04,378.57 L816.04,378.56 L816.53,378.19 L816.54,378.18 L817.03,377.80 L817.03,377.80 L817.52,377.42 L817.52,377.41 L818.00,377.03 L818.01,377.02 L818.49,376.63 L818.50,376.63 L818.97,376.24 L818.98,376.23 L819.46,375.84 L819.46,375.83 L819.94,375.44 L819.94,375.43 L820.41,375.03 L820.42,375.03 L820.89,374.63 L820.89,374.62 L821.36,374.22 L821.37,374.21 L821.83,373.80 L821.83,373.80 L822.29,373.39 L822.30,373.38 L822.76,372.97 L822.77,372.96 L822.87,372.87 L823.16,372.52 L823.35,372.12 L823.43,371.68 L823.38,371.23 L823.23,370.81 L822.97,370.45 L817.01,364.10 L816.67,363.83 L816.27,363.64 L815.84,363.57 L815.41,363.61 L814.99,363.76 L814.63,364.00 L814.23,364.37 L813.82,364.73 L813.40,365.10 L812.99,365.46 L812.57,365.82 L812.14,366.18 L811.72,366.53 L811.30,366.89 L810.87,367.24 L810.44,367.58 L810.01,367.93 L809.57,368.27 L809.14,368.61 L808.70,368.95 L808.26,369.28 L807.81,369.61 L807.37,369.94 Z M663.49,360.91 L663.21,360.62 L662.88,360.41 L662.49,360.29 L662.09,360.26 L661.70,360.34 L661.34,360.51 L661.03,360.77 L660.80,361.09 L660.65,361.46 L660.60,361.86 L660.60,378.99 L660.65,379.41 L660.81,379.79 L661.07,380.13 L661.40,380.38 L661.79,380.54 L662.20,380.59 L662.61,380.54 L663.00,380.38 L663.33,380.13 L671.08,372.38 L671.33,372.06 L671.49,371.68 L671.55,371.28 L671.50,370.88 L671.36,370.50 L671.13,370.17 L670.51,369.49 L669.91,368.82 L669.30,368.14 L668.71,367.45 L668.12,366.76 L667.53,366.07 L666.96,365.37 L666.38,364.66 L665.82,363.95 L665.25,363.24 L664.70,362.52 L664.15,361.80 L663.61,361.07 Z M677.54,376.58 L677.20,376.34 L676.82,376.20 L676.42,376.15 L676.02,376.21 L675.64,376.37 L675.32,376.62 L663.67,388.27 L663.42,388.60 L663.26,388.99 L663.21,389.40 L663.26,389.81 L663.42,390.20 L663.67,390.53 L664.01,390.79 L664.39,390.95 L664.81,391.00 L687.72,391.00 L688.11,390.95 L688.47,390.81 L688.80,390.58 L689.05,390.29 L690.21,388.55 L690.39,388.18 L690.47,387.77 L690.45,387.36 L690.32,386.97 L690.09,386.62 L689.78,386.34 L689.59,386.21 L688.85,385.70 L688.11,385.17 L687.37,384.64 L686.64,384.10 L685.91,383.56 L685.19,383.01 L684.47,382.45 L683.76,381.89 L683.05,381.33 L682.34,380.75 L681.64,380.17 L680.95,379.59 L680.26,379.00 L679.57,378.40 L678.89,377.80 L678.22,377.20 L677.54,376.58 Z M660.60,278.18 L660.63,278.40 L660.71,278.59 L660.85,278.76 L661.02,278.89 L661.22,278.96 L661.43,278.98 L661.64,278.95 L661.83,278.86 L662.00,278.72 L662.12,278.54 L662.19,278.34 L662.48,276.81 L662.48,276.80 L662.92,274.78 L662.92,274.78 L663.41,272.77 L663.41,272.76 L663.94,270.77 L663.94,270.76 L664.51,268.78 L664.52,268.78 L665.13,266.81 L665.14,266.80 L665.80,264.85 L665.80,264.84 L666.51,262.91 L666.51,262.90 L667.26,260.98 L667.26,260.97 L668.05,259.07 L668.06,259.06 L668.89,257.17 L668.90,257.17 L669.77,255.30 L669.78,255.29 L670.69,253.45 L670.70,253.44 L671.66,251.62 L671.66,251.61 L672.66,249.81 L672.67,249.80 L673.31,248.70 L673.39,248.51 L673.42,248.31 L673.40,248.10 L673.32,247.91 L673.20,247.74 L673.03,247.61 L661.81,240.87 L661.62,240.79 L661.41,240.76 L661.20,240.78 L661.01,240.86 L660.84,240.99 L660.71,241.15 L660.63,241.35 L660.60,241.55 Z M662.19,312.26 L662.12,312.06 L662.00,311.88 L661.83,311.74 L661.64,311.65 L661.43,311.62 L661.22,311.64 L661.02,311.71 L660.85,311.84 L660.71,312.01 L660.63,312.20 L660.60,312.42 L660.60,349.05 L660.63,349.25 L660.71,349.45 L660.84,349.61 L661.01,349.74 L661.20,349.82 L661.41,349.84 L661.62,349.81 L661.81,349.73 L673.03,342.99 L673.20,342.86 L673.32,342.69 L673.40,342.50 L673.42,342.29 L673.39,342.09 L673.31,341.90 L672.67,340.80 L672.66,340.79 L671.66,338.99 L671.66,338.98 L670.70,337.16 L670.69,337.15 L669.78,335.31 L669.77,335.30 L668.90,333.43 L668.89,333.43 L668.06,331.54 L668.05,331.53 L667.26,329.63 L667.26,329.62 L666.51,327.70 L666.51,327.69 L665.80,325.76 L665.80,325.75 L665.14,323.80 L665.13,323.79 L664.52,321.82 L664.51,321.82 L663.94,319.84 L663.94,319.83 L663.41,317.84 L663.41,317.83 L662.92,315.82 L662.92,315.82 L662.48,313.80 L662.48,313.79 Z M667.55,233.78 L667.34,234.18 L667.24,234.61 L667.26,235.06 L667.39,235.49 L667.63,235.87 L667.96,236.17 L675.08,241.16 L675.47,241.37 L675.90,241.46 L676.34,241.45 L676.76,241.32 L677.13,241.09 L677.43,240.77 L677.75,240.34 L678.08,239.89 L678.41,239.45 L678.75,239.01 L679.08,238.57 L679.42,238.14 L679.77,237.70 L680.11,237.27 L680.46,236.84 L680.81,236.41 L681.16,235.99 L681.51,235.56 L681.87,235.14 L682.23,234.72 L682.59,234.30 L682.96,233.89 L683.33,233.48 L683.70,233.07 L683.94,232.71 L684.09,232.29 L684.13,231.86 L684.06,231.43 L683.87,231.03 L683.60,230.69 L677.25,224.73 L676.89,224.47 L676.47,224.32 L676.02,224.27 L675.58,224.35 L675.18,224.54 L674.83,224.83 L674.74,224.93 L674.73,224.94 L674.32,225.40 L674.31,225.41 L673.90,225.87 L673.90,225.87 L673.49,226.33 L673.48,226.34 L673.08,226.81 L673.07,226.81 L672.67,227.28 L672.67,227.29 L672.27,227.76 L672.26,227.76 L671.87,228.24 L671.86,228.24 L671.47,228.72 L671.46,228.73 L671.07,229.20 L671.07,229.21 L670.68,229.69 L670.67,229.70 L670.29,230.18 L670.28,230.18 L669.90,230.67 L669.90,230.67 L669.52,231.16 L669.51,231.17 L669.14,231.66 L669.13,231.66 L668.76,232.15 L668.76,232.16 L668.39,232.65 L668.38,232.66 L668.01,233.15 L668.01,233.16 L667.64,233.66 L667.64,233.67 Z M667.96,354.43 L667.63,354.73 L667.39,355.11 L667.26,355.54 L667.24,355.99 L667.34,356.42 L667.55,356.82 L667.64,356.93 L667.64,356.94 L668.01,357.44 L668.01,357.45 L668.38,357.94 L668.39,357.95 L668.76,358.44 L668.76,358.45 L669.13,358.94 L669.14,358.94 L669.51,359.43 L669.52,359.44 L669.90,359.93 L669.90,359.93 L670.28,360.42 L670.29,360.42 L670.67,360.90 L670.68,360.91 L671.07,361.39 L671.07,361.40 L671.46,361.87 L671.47,361.88 L671.86,362.36 L671.87,362.36 L672.26,362.84 L672.27,362.84 L672.67,363.31 L672.67,363.32 L673.07,363.79 L673.08,363.79 L673.48,364.26 L673.49,364.27 L673.90,364.73 L673.90,364.73 L674.31,365.19 L674.32,365.20 L674.73,365.66 L674.74,365.67 L674.83,365.77 L675.18,366.06 L675.58,366.25 L676.02,366.33 L676.47,366.28 L676.89,366.13 L677.25,365.87 L683.60,359.91 L683.87,359.57 L684.06,359.17 L684.13,358.74 L684.09,358.31 L683.94,357.89 L683.70,357.53 L683.33,357.13 L682.97,356.72 L682.60,356.30 L682.24,355.89 L681.88,355.47 L681.52,355.04 L681.17,354.62 L680.81,354.20 L680.46,353.77 L680.12,353.34 L679.77,352.91 L679.43,352.47 L679.09,352.04 L678.75,351.60 L678.42,351.16 L678.09,350.71 L677.76,350.27 L677.43,349.83 L677.13,349.51 L676.76,349.28 L676.34,349.15 L675.90,349.14 L675.47,349.23 L675.08,349.44 Z M675.32,213.98 L675.64,214.23 L676.02,214.39 L676.42,214.45 L676.82,214.40 L677.20,214.26 L677.54,214.02 L677.54,214.02 L678.21,213.41 L678.88,212.81 L679.56,212.20 L680.25,211.61 L680.94,211.02 L681.63,210.43 L682.33,209.86 L683.04,209.28 L683.75,208.72 L684.46,208.15 L685.18,207.60 L685.90,207.05 L686.63,206.51 L687.36,205.97 L688.10,205.44 L688.84,204.91 L689.58,204.39 L689.78,204.26 L690.09,203.98 L690.32,203.63 L690.45,203.24 L690.47,202.83 L690.39,202.42 L690.21,202.05 L689.32,200.71 L689.06,200.42 L688.74,200.19 L688.38,200.05 L687.99,200.00 L665.21,200.00 L664.79,200.05 L664.41,200.21 L664.07,200.47 L663.82,200.80 L663.66,201.19 L663.61,201.60 L663.66,202.01 L663.82,202.40 L664.07,202.73 Z M660.60,228.74 L660.65,229.14 L660.80,229.51 L661.03,229.83 L661.34,230.09 L661.70,230.26 L662.09,230.34 L662.49,230.31 L662.88,230.19 L663.21,229.98 L663.49,229.69 L663.60,229.54 L664.14,228.81 L664.69,228.09 L665.25,227.37 L665.81,226.66 L666.37,225.95 L666.95,225.24 L667.53,224.54 L668.11,223.85 L668.70,223.16 L669.30,222.47 L669.90,221.79 L670.50,221.12 L671.12,220.44 L671.12,220.44 L671.36,220.10 L671.50,219.72 L671.55,219.32 L671.49,218.92 L671.33,218.54 L671.08,218.22 L663.33,210.47 L663.00,210.22 L662.61,210.06 L662.20,210.01 L661.79,210.06 L661.40,210.22 L661.07,210.47 L660.81,210.81 L660.65,211.19 L660.60,211.61 Z" stroke-width="1.6" fill="none" />
<path d="M783.47,203.52 L784.29,203.80 L785.10,204.09 L785.92,204.38 L786.73,204.69 L787.54,205.00 L788.35,205.31 L789.15,205.64 L789.95,205.97 L790.75,206.31 L791.54,206.66 L792.33,207.01 L793.12,207.37 L793.91,207.74 L794.69,208.11 L795.47,208.50 L796.24,208.88 L797.01,209.28 L797.78,209.68 L798.54,210.09 L799.30,210.51 L800.06,210.93 L800.81,211.36 L801.56,211.80 L802.31,212.24 M809.47,216.74 L809.83,217.00 L810.18,217.26 L810.53,217.52 L810.88,217.79 L811.23,218.05 L811.58,218.32 L811.92,218.58 L812.27,218.85 L812.61,219.12 L812.96,219.40 L813.30,219.67 L813.64,219.95 L813.98,220.22 L814.32,220.50 L814.65,220.78 L814.99,221.06 L815.32,221.35 L815.65,221.63 L815.99,221.92 L816.32,222.20 L816.65,222.49 L816.97,222.78 L817.30,223.07 L817.62,223.37 M702.49,212.24 L703.24,211.80 L703.99,211.36 L704.74,210.93 L705.50,210.51 L706.26,210.09 L707.02,209.68 L707.79,209.28 L708.56,208.88 L709.33,208.50 L710.11,208.11 L710.89,207.74 L711.68,207.37 L712.47,207.01 L713.26,206.66 L714.05,206.31 L714.85,205.97 L715.65,205.64 L716.45,205.31 L717.26,205.00 L718.07,204.69 L718.88,204.38 L719.70,204.09 L720.51,203.80 L721.33,203.52 M687.18,223.37 L687.50,223.07 L687.83,222.78 L688.15,222.49 L688.48,222.20 L688.81,221.92 L689.15,221.63 L689.48,221.35 L689.81,221.06 L690.15,220.78 L690.48,220.50 L690.82,220.22 L691.16,219.95 L691.50,219.67 L691.84,219.40 L692.19,219.12 L692.53,218.85 L692.88,218.58 L693.22,218.32 L693.57,218.05 L693.92,217.79 L694.27,217.52 L694.62,217.26 L694.97,217.00 L695.33,216.74 M836.91,247.49 L838.11,249.68 L839.26,251.90 L840.35,254.15 L841.38,256.43 L842.35,258.73 L843.26,261.06 L844.11,263.41 L844.90,265.78 L845.63,268.17 L846.30,270.58 L846.80,272.58 M846.80,318.02 L846.30,320.02 L845.63,322.43 L844.90,324.82 L844.11,327.19 L843.26,329.54 L842.35,331.87 L841.38,334.17 L840.35,336.45 L839.26,338.70 L838.11,340.92 L836.91,343.11 M833.95,249.16 L835.11,251.27 L836.22,253.42 L837.27,255.59 L838.26,257.79 L839.20,260.01 L840.08,262.26 L840.90,264.52 L841.66,266.81 L842.37,269.12 L843.01,271.44 L843.60,273.78 L844.12,276.14 L844.58,278.51 L844.98,280.88 L845.32,283.27 L845.60,285.67 L845.82,288.07 L845.98,290.48 L846.07,292.89 L846.10,295.30 L846.07,297.71 L845.98,300.12 L845.82,302.53 L845.60,304.93 L845.32,307.33 L844.98,309.72 L844.58,312.09 L844.12,314.46 L843.60,316.82 L843.01,319.16 L842.37,321.48 L841.66,323.79 L840.90,326.08 L840.08,328.34 L839.20,330.59 L838.26,332.81 L837.27,335.01 L836.22,337.18 L835.11,339.33 L833.95,341.44 M830.96,352.37 L830.70,352.73 L830.44,353.08 L830.18,353.43 L829.91,353.78 L829.65,354.13 L829.38,354.48 L829.12,354.82 L828.85,355.17 L828.58,355.51 L828.30,355.86 L828.03,356.20 L827.75,356.54 L827.48,356.88 L827.20,357.22 L826.92,357.55 L826.64,357.89 L826.35,358.22 L826.07,358.55 L825.78,358.89 L825.50,359.22 L825.21,359.55 L824.92,359.87 L824.63,360.20 L824.33,360.52 M824.33,230.08 L824.63,230.40 L824.92,230.73 L825.21,231.05 L825.50,231.38 L825.78,231.71 L826.07,232.05 L826.35,232.38 L826.64,232.71 L826.92,233.05 L827.20,233.38 L827.48,233.72 L827.75,234.06 L828.03,234.40 L828.30,234.74 L828.58,235.09 L828.85,235.43 L829.12,235.78 L829.38,236.12 L829.65,236.47 L829.91,236.82 L830.18,237.17 L830.44,237.52 L830.70,237.87 L830.96,238.23 M721.33,387.08 L720.51,386.80 L719.70,386.51 L718.88,386.22 L718.07,385.91 L717.26,385.60 L716.45,385.29 L715.65,384.96 L714.85,384.63 L714.05,384.29 L713.26,383.94 L712.47,383.59 L711.68,383.23 L710.89,382.86 L710.11,382.49 L709.33,382.10 L708.56,381.72 L707.79,381.32 L707.02,380.92 L706.26,380.51 L705.50,380.09 L704.74,379.67 L703.99,379.24 L703.24,378.80 L702.49,378.36 M695.33,373.86 L694.97,373.60 L694.62,373.34 L694.27,373.08 L693.92,372.81 L693.57,372.55 L693.22,372.28 L692.88,372.02 L692.53,371.75 L692.19,371.48 L691.84,371.20 L691.50,370.93 L691.16,370.65 L690.82,370.38 L690.48,370.10 L690.15,369.82 L689.81,369.54 L689.48,369.25 L689.15,368.97 L688.81,368.68 L688.48,368.40 L688.15,368.11 L687.83,367.82 L687.50,367.53 L687.18,367.23 M802.31,378.36 L801.56,378.80 L800.81,379.24 L800.06,379.67 L799.30,380.09 L798.54,380.51 L797.78,380.92 L797.01,381.32 L796.24,381.72 L795.47,382.10 L794.69,382.49 L793.91,382.86 L793.12,383.23 L792.33,383.59 L791.54,383.94 L790.75,384.29 L789.95,384.63 L789.15,384.96 L788.35,385.29 L787.54,385.60 L786.73,385.91 L785.92,386.22 L785.10,386.51 L784.29,386.80 L783.47,387.08 M817.62,367.23 L817.30,367.53 L816.97,367.82 L816.65,368.11 L816.32,368.40 L815.99,368.68 L815.65,368.97 L815.32,369.25 L814.99,369.54 L814.65,369.82 L814.32,370.10 L813.98,370.38 L813.64,370.65 L813.30,370.93 L812.96,371.20 L812.61,371.48 L812.27,371.75 L811.92,372.02 L811.58,372.28 L811.23,372.55 L810.88,372.81 L810.53,373.08 L810.18,373.34 L809.83,373.60 L809.47,373.86 M667.89,343.11 L666.69,340.92 L665.54,338.70 L664.45,336.45 L663.42,334.17 L662.45,331.87 L662.20,331.23 M662.20,259.37 L662.45,258.73 L663.42,256.43 L664.45,254.15 L665.54,251.90 L666.69,249.68 L667.89,247.49 M673.84,238.23 L674.10,237.87 L674.36,237.52 L674.62,237.17 L674.89,236.82 L675.15,236.47 L675.42,236.12 L675.68,235.78 L675.95,235.43 L676.22,235.09 L676.50,234.74 L676.77,234.40 L677.05,234.06 L677.32,233.72 L677.60,233.38 L677.88,233.05 L678.16,232.71 L678.45,232.38 L678.73,232.05 L679.02,231.71 L679.30,231.38 L679.59,231.05 L679.88,230.73 L680.17,230.40 L680.47,230.08 M680.47,360.52 L680.17,360.20 L679.88,359.87 L679.59,359.55 L679.30,359.22 L679.02,358.89 L678.73,358.55 L678.45,358.22 L678.16,357.89 L677.88,357.55 L677.60,357.22 L677.32,356.88 L677.05,356.54 L676.77,356.20 L676.50,355.86 L676.22,355.51 L675.95,355.17 L675.68,354.82 L675.42,354.48 L675.15,354.13 L674.89,353.78 L674.62,353.43 L674.36,353.08 L674.10,352.73 L673.84,352.37" stroke-width="1.0" fill="none" />
<circle cx="752.40" cy="295.30" r="84.20" stroke-width="0" fill="#fff"/>
<path d="M830.56,297.59 L909.81,268.27 L929.59,321.73 L778.12,377.76 Z" stroke-width="0" fill="#fff" />
<circle cx="919.70" cy="295.00" r="28.50" stroke-width="0" fill="#fff"/>
<path d="M836.58,297.21 A84.2,84.2 0 1 0 776.60,375.95" stroke-width="1.7" fill="none" />
<path d="M776.60,375.95 L774.81,370.01" stroke-width="1.0" fill="none" />
<circle cx="752.40" cy="295.30" r="78.00" stroke-width="1.1" fill="none"/>
<circle cx="752.40" cy="295.30" r="74.50" stroke-width="1.1" fill="none"/>
<path d="M830.56,297.59 L909.81,268.27" stroke-width="1.1" fill="none" />
<path d="M778.12,377.76 L929.59,321.73" stroke-width="1.1" fill="none" />
<circle cx="919.70" cy="295.00" r="28.50" stroke-width="1.2" fill="none"/>
<path d="M915.73,266.78 A28.5,28.5 0 0 1 941.53,276.68" stroke-width="2.0" fill="none" />
<path d="M947.23,302.38 A28.5,28.5 0 0 1 933.95,319.68" stroke-width="2.0" fill="none" />
<path d="M893.0,275.4 L899.5,270.6 L905,268.6 L912.5,267.4 L912.5,269.0 L906,270.8 L901.5,273.4 L900.5,275.6 Z" stroke-width="0.5" fill="#000" />
<rect x="919.10" y="294.40" width="1.20" height="1.20" rx="0" stroke-width="0" fill="#000"/>
<line x1="844.70" y1="294.40" x2="862.60" y2="345.20" stroke-width="1.1"/>
<path d="M825,325.3 L845.7,318.4 L848.5,326.3 L818.5,337.5" stroke-width="1.0" fill="none" />
<line x1="833.50" y1="322.10" x2="835.90" y2="330.00" stroke-width="1.0"/>
<path d="M763.23,239.14 L762.92,239.12 L762.61,239.19 L762.33,239.33 L762.10,239.55 L761.93,239.81 L761.83,240.12 L760.79,246.23 L760.78,246.54 L760.84,246.84 L760.99,247.12 L761.20,247.35 L761.46,247.51 L761.75,247.61 L761.76,247.61 L761.77,247.61 L762.93,247.86 L762.95,247.86 L764.10,248.13 L764.11,248.13 L765.26,248.43 L765.27,248.44 L766.41,248.76 L766.42,248.77 L767.55,249.12 L767.57,249.13 L768.69,249.51 L768.70,249.52 L769.81,249.93 L769.82,249.93 L770.92,250.37 L770.94,250.37 L772.02,250.84 L772.04,250.84 L773.11,251.34 L773.13,251.34 L774.19,251.86 L774.21,251.87 L775.26,252.41 L775.27,252.42 L776.31,252.99 L776.32,252.99 L777.34,253.59 L777.36,253.60 L777.36,253.60 L777.64,253.73 L777.95,253.78 L778.26,253.75 L778.55,253.64 L778.80,253.46 L779.00,253.22 L782.32,247.98 L782.45,247.69 L782.50,247.38 L782.47,247.07 L782.36,246.77 L782.17,246.51 L781.93,246.31 L781.78,246.22 L781.75,246.20 L780.56,245.51 L780.53,245.50 L779.32,244.83 L779.30,244.82 L778.07,244.18 L778.04,244.17 L776.80,243.57 L776.77,243.55 L775.52,242.98 L775.49,242.97 L774.22,242.43 L774.20,242.42 L772.91,241.90 L772.88,241.89 L771.59,241.42 L771.56,241.41 L770.26,240.96 L770.23,240.95 L768.91,240.53 L768.88,240.53 L767.56,240.14 L767.53,240.14 L766.19,239.79 L766.16,239.78 L764.82,239.46 L764.79,239.46 L763.44,239.18 L763.41,239.17 Z" stroke-width="1.8" fill="none" />
<path d="M762.29,245.37 L763.99,245.74 L765.68,246.16 L767.35,246.64 L769.01,247.18 L770.64,247.78 L772.26,248.43 L773.85,249.14 L775.41,249.90 L776.95,250.71 L778.46,251.58" stroke-width="1.0" fill="none" />
<path d="M787.79,250.36 L787.51,250.20 L787.21,250.12 L786.89,250.12 L786.59,250.21 L786.31,250.36 L786.09,250.59 L782.36,255.54 L782.21,255.81 L782.13,256.11 L782.13,256.42 L782.21,256.72 L782.36,256.99 L782.58,257.21 L782.71,257.31 L782.72,257.32 L783.75,258.16 L783.76,258.17 L784.76,259.04 L784.78,259.05 L785.76,259.95 L785.77,259.97 L786.72,260.89 L786.73,260.90 L787.66,261.86 L787.67,261.87 L788.57,262.85 L788.59,262.86 L789.46,263.86 L789.47,263.87 L790.32,264.90 L790.33,264.91 L791.14,265.96 L791.15,265.97 L791.94,267.05 L791.95,267.06 L792.71,268.15 L792.72,268.17 L793.45,269.28 L793.46,269.29 L794.15,270.43 L794.16,270.44 L794.83,271.59 L794.83,271.61 L794.91,271.74 L795.09,271.99 L795.33,272.19 L795.61,272.32 L795.92,272.37 L796.23,272.34 L796.52,272.24 L802.01,269.36 L802.27,269.18 L802.47,268.94 L802.60,268.65 L802.66,268.34 L802.62,268.02 L802.51,267.73 L802.35,267.42 L802.33,267.39 L801.55,266.05 L801.54,266.02 L800.72,264.70 L800.71,264.67 L799.86,263.37 L799.84,263.34 L798.96,262.07 L798.94,262.04 L798.02,260.79 L798.00,260.76 L797.04,259.54 L797.02,259.51 L796.04,258.32 L796.01,258.29 L794.99,257.12 L794.97,257.10 L793.92,255.96 L793.90,255.93 L792.81,254.82 L792.79,254.80 L791.68,253.72 L791.65,253.69 L790.51,252.65 L790.49,252.62 L789.31,251.61 L789.29,251.58 L788.09,250.60 L788.06,250.58 Z" stroke-width="1.8" fill="none" />
<path d="M784.09,255.47 L785.62,256.73 L787.10,258.06 L788.53,259.45 L789.90,260.89 L791.22,262.38 L792.48,263.92 L793.67,265.51 L794.81,267.15 L795.87,268.83 L796.88,270.55" stroke-width="1.0" fill="none" />
<path d="M805.55,274.17 L805.39,273.89 L805.17,273.67 L804.90,273.51 L804.59,273.43 L804.28,273.43 L803.97,273.51 L798.26,275.93 L797.99,276.08 L797.77,276.30 L797.62,276.57 L797.54,276.87 L797.54,277.19 L797.62,277.49 L797.62,277.49 L797.62,277.50 L798.04,278.61 L798.05,278.63 L798.44,279.74 L798.45,279.76 L798.81,280.88 L798.82,280.90 L799.15,282.03 L799.16,282.04 L799.47,283.19 L799.47,283.20 L799.75,284.35 L799.75,284.36 L800.01,285.52 L800.01,285.53 L800.23,286.70 L800.24,286.71 L800.43,287.88 L800.43,287.89 L800.60,289.06 L800.60,289.08 L800.74,290.25 L800.74,290.27 L800.85,291.45 L800.85,291.46 L800.93,292.64 L800.93,292.66 L800.98,293.84 L800.98,293.86 L800.98,293.86 L801.02,294.17 L801.15,294.45 L801.34,294.70 L801.59,294.88 L801.88,295.00 L802.18,295.04 L808.38,295.01 L808.70,294.96 L808.99,294.84 L809.24,294.65 L809.43,294.39 L809.54,294.10 L809.58,293.79 L809.57,293.61 L809.57,293.58 L809.52,292.20 L809.51,292.17 L809.42,290.79 L809.42,290.76 L809.29,289.39 L809.29,289.36 L809.13,287.98 L809.13,287.96 L808.93,286.59 L808.93,286.56 L808.70,285.20 L808.70,285.17 L808.43,283.81 L808.43,283.78 L808.13,282.44 L808.13,282.41 L807.80,281.07 L807.79,281.04 L807.43,279.70 L807.42,279.68 L807.03,278.35 L807.02,278.32 L806.60,277.01 L806.59,276.98 L806.13,275.68 L806.12,275.65 L805.63,274.36 L805.62,274.33 Z" stroke-width="1.8" fill="none" />
<path d="M799.79,276.73 L800.40,278.36 L800.95,280.01 L801.44,281.68 L801.88,283.37 L802.26,285.07 L802.58,286.78 L802.84,288.50 L803.05,290.23 L803.19,291.96 L803.27,293.70" stroke-width="1.0" fill="none" />
<path d="M808.56,306.13 L808.58,305.82 L808.51,305.51 L808.37,305.23 L808.15,305.00 L807.89,304.83 L807.58,304.73 L801.47,303.69 L801.16,303.68 L800.86,303.74 L800.58,303.89 L800.35,304.10 L800.19,304.36 L800.09,304.65 L800.09,304.66 L800.09,304.67 L799.84,305.83 L799.84,305.85 L799.57,307.00 L799.57,307.01 L799.27,308.16 L799.26,308.17 L798.94,309.31 L798.93,309.32 L798.58,310.45 L798.57,310.47 L798.19,311.59 L798.18,311.60 L797.77,312.71 L797.77,312.72 L797.33,313.82 L797.33,313.84 L796.86,314.92 L796.86,314.94 L796.36,316.01 L796.36,316.03 L795.84,317.09 L795.83,317.11 L795.29,318.16 L795.28,318.17 L794.71,319.21 L794.71,319.22 L794.11,320.24 L794.10,320.26 L794.10,320.26 L793.97,320.54 L793.92,320.85 L793.95,321.16 L794.06,321.45 L794.24,321.70 L794.48,321.90 L799.72,325.22 L800.01,325.35 L800.32,325.40 L800.63,325.37 L800.93,325.26 L801.19,325.07 L801.39,324.83 L801.48,324.68 L801.50,324.65 L802.19,323.46 L802.20,323.43 L802.87,322.22 L802.88,322.20 L803.52,320.97 L803.53,320.94 L804.13,319.70 L804.15,319.67 L804.72,318.42 L804.73,318.39 L805.27,317.12 L805.28,317.10 L805.80,315.81 L805.81,315.78 L806.28,314.49 L806.29,314.46 L806.74,313.16 L806.75,313.13 L807.17,311.81 L807.17,311.78 L807.56,310.46 L807.56,310.43 L807.91,309.09 L807.92,309.06 L808.24,307.72 L808.24,307.69 L808.52,306.34 L808.53,306.31 Z" stroke-width="1.8" fill="none" />
<path d="M802.33,305.19 L801.96,306.89 L801.54,308.58 L801.06,310.25 L800.52,311.91 L799.92,313.54 L799.27,315.16 L798.56,316.75 L797.80,318.31 L796.99,319.85 L796.12,321.36" stroke-width="1.0" fill="none" />
<path d="M797.34,330.69 L797.50,330.41 L797.58,330.11 L797.58,329.79 L797.49,329.49 L797.34,329.21 L797.11,328.99 L792.16,325.26 L791.89,325.11 L791.59,325.03 L791.28,325.03 L790.98,325.11 L790.71,325.26 L790.49,325.48 L790.39,325.61 L790.38,325.62 L789.54,326.65 L789.53,326.66 L788.66,327.66 L788.65,327.68 L787.75,328.66 L787.73,328.67 L786.81,329.62 L786.80,329.63 L785.84,330.56 L785.83,330.57 L784.85,331.47 L784.84,331.49 L783.84,332.36 L783.83,332.37 L782.80,333.22 L782.79,333.23 L781.74,334.04 L781.73,334.05 L780.65,334.84 L780.64,334.85 L779.55,335.61 L779.53,335.62 L778.42,336.35 L778.41,336.36 L777.27,337.05 L777.26,337.06 L776.11,337.73 L776.09,337.73 L775.96,337.81 L775.71,337.99 L775.51,338.23 L775.38,338.51 L775.33,338.82 L775.36,339.13 L775.46,339.42 L778.34,344.91 L778.52,345.17 L778.76,345.37 L779.05,345.50 L779.36,345.56 L779.68,345.52 L779.97,345.41 L780.28,345.25 L780.31,345.23 L781.65,344.45 L781.68,344.44 L783.00,343.62 L783.03,343.61 L784.33,342.76 L784.36,342.74 L785.63,341.86 L785.66,341.84 L786.91,340.92 L786.94,340.90 L788.16,339.94 L788.19,339.92 L789.38,338.94 L789.41,338.91 L790.58,337.89 L790.60,337.87 L791.74,336.82 L791.77,336.80 L792.88,335.71 L792.90,335.69 L793.98,334.58 L794.01,334.55 L795.05,333.41 L795.08,333.39 L796.09,332.21 L796.12,332.19 L797.10,330.99 L797.12,330.96 Z" stroke-width="1.8" fill="none" />
<path d="M792.23,326.99 L790.97,328.52 L789.64,330.00 L788.25,331.43 L786.81,332.80 L785.32,334.12 L783.78,335.38 L782.19,336.57 L780.55,337.71 L778.87,338.77 L777.15,339.78" stroke-width="1.0" fill="none" />
<path d="M773.53,348.45 L773.81,348.29 L774.03,348.07 L774.19,347.80 L774.27,347.49 L774.27,347.18 L774.19,346.87 L771.77,341.16 L771.62,340.89 L771.40,340.67 L771.13,340.52 L770.83,340.44 L770.51,340.44 L770.21,340.52 L770.21,340.52 L770.20,340.52 L769.09,340.94 L769.07,340.95 L767.96,341.34 L767.94,341.35 L766.82,341.71 L766.80,341.72 L765.67,342.05 L765.66,342.06 L764.51,342.37 L764.50,342.37 L763.35,342.65 L763.34,342.65 L762.18,342.91 L762.17,342.91 L761.00,343.13 L760.99,343.14 L759.82,343.33 L759.81,343.33 L758.64,343.50 L758.62,343.50 L757.45,343.64 L757.43,343.64 L756.25,343.75 L756.24,343.75 L755.06,343.83 L755.04,343.83 L753.86,343.88 L753.84,343.88 L753.84,343.88 L753.53,343.92 L753.25,344.05 L753.00,344.24 L752.82,344.49 L752.70,344.78 L752.66,345.08 L752.69,351.28 L752.74,351.60 L752.86,351.89 L753.05,352.14 L753.31,352.33 L753.60,352.44 L753.91,352.48 L754.09,352.47 L754.12,352.47 L755.50,352.42 L755.53,352.41 L756.91,352.32 L756.94,352.32 L758.31,352.19 L758.34,352.19 L759.72,352.03 L759.74,352.03 L761.11,351.83 L761.14,351.83 L762.50,351.60 L762.53,351.60 L763.89,351.33 L763.92,351.33 L765.26,351.03 L765.29,351.03 L766.63,350.70 L766.66,350.69 L768.00,350.33 L768.02,350.32 L769.35,349.93 L769.38,349.92 L770.69,349.50 L770.72,349.49 L772.02,349.03 L772.05,349.02 L773.34,348.53 L773.37,348.52 Z" stroke-width="1.8" fill="none" />
<path d="M770.97,342.69 L769.34,343.30 L767.69,343.85 L766.02,344.34 L764.33,344.78 L762.63,345.16 L760.92,345.48 L759.20,345.74 L757.47,345.95 L755.74,346.09 L754.00,346.17" stroke-width="1.0" fill="none" />
<path d="M741.57,351.46 L741.88,351.48 L742.19,351.41 L742.47,351.27 L742.70,351.05 L742.87,350.79 L742.97,350.48 L744.01,344.37 L744.02,344.06 L743.96,343.76 L743.81,343.48 L743.60,343.25 L743.34,343.09 L743.05,342.99 L743.04,342.99 L743.03,342.99 L741.87,342.74 L741.85,342.74 L740.70,342.47 L740.69,342.47 L739.54,342.17 L739.53,342.16 L738.39,341.84 L738.38,341.83 L737.25,341.48 L737.23,341.47 L736.11,341.09 L736.10,341.08 L734.99,340.67 L734.98,340.67 L733.88,340.23 L733.86,340.23 L732.78,339.76 L732.76,339.76 L731.69,339.26 L731.67,339.26 L730.61,338.74 L730.59,338.73 L729.54,338.19 L729.53,338.18 L728.49,337.61 L728.48,337.61 L727.46,337.01 L727.44,337.00 L727.44,337.00 L727.16,336.87 L726.85,336.82 L726.54,336.85 L726.25,336.96 L726.00,337.14 L725.80,337.38 L722.48,342.62 L722.35,342.91 L722.30,343.22 L722.33,343.53 L722.44,343.83 L722.63,344.09 L722.87,344.29 L723.02,344.38 L723.05,344.40 L724.24,345.09 L724.27,345.10 L725.48,345.77 L725.50,345.78 L726.73,346.42 L726.76,346.43 L728.00,347.03 L728.03,347.05 L729.28,347.62 L729.31,347.63 L730.58,348.17 L730.60,348.18 L731.89,348.70 L731.92,348.71 L733.21,349.18 L733.24,349.19 L734.54,349.64 L734.57,349.65 L735.89,350.07 L735.92,350.07 L737.24,350.46 L737.27,350.46 L738.61,350.81 L738.64,350.82 L739.98,351.14 L740.01,351.14 L741.36,351.42 L741.39,351.43 Z" stroke-width="1.8" fill="none" />
<path d="M742.51,345.23 L740.81,344.86 L739.12,344.44 L737.45,343.96 L735.79,343.42 L734.16,342.82 L732.54,342.17 L730.95,341.46 L729.39,340.70 L727.85,339.89 L726.34,339.02" stroke-width="1.0" fill="none" />
<path d="M717.01,340.24 L717.29,340.40 L717.59,340.48 L717.91,340.48 L718.21,340.39 L718.49,340.24 L718.71,340.01 L722.44,335.06 L722.59,334.79 L722.67,334.49 L722.67,334.18 L722.59,333.88 L722.44,333.61 L722.22,333.39 L722.09,333.29 L722.08,333.28 L721.05,332.44 L721.04,332.43 L720.04,331.56 L720.02,331.55 L719.04,330.65 L719.03,330.63 L718.08,329.71 L718.07,329.70 L717.14,328.74 L717.13,328.73 L716.23,327.75 L716.21,327.74 L715.34,326.74 L715.33,326.73 L714.48,325.70 L714.47,325.69 L713.66,324.64 L713.65,324.63 L712.86,323.55 L712.85,323.54 L712.09,322.45 L712.08,322.43 L711.35,321.32 L711.34,321.31 L710.65,320.17 L710.64,320.16 L709.97,319.01 L709.97,318.99 L709.89,318.86 L709.71,318.61 L709.47,318.41 L709.19,318.28 L708.88,318.23 L708.57,318.26 L708.28,318.36 L702.79,321.24 L702.53,321.42 L702.33,321.66 L702.20,321.95 L702.14,322.26 L702.18,322.58 L702.29,322.87 L702.45,323.18 L702.47,323.21 L703.25,324.55 L703.26,324.58 L704.08,325.90 L704.09,325.93 L704.94,327.23 L704.96,327.26 L705.84,328.53 L705.86,328.56 L706.78,329.81 L706.80,329.84 L707.76,331.06 L707.78,331.09 L708.76,332.28 L708.79,332.31 L709.81,333.48 L709.83,333.50 L710.88,334.64 L710.90,334.67 L711.99,335.78 L712.01,335.80 L713.12,336.88 L713.15,336.91 L714.29,337.95 L714.31,337.98 L715.49,338.99 L715.51,339.02 L716.71,340.00 L716.74,340.02 Z" stroke-width="1.8" fill="none" />
<path d="M720.71,335.13 L719.18,333.87 L717.70,332.54 L716.27,331.15 L714.90,329.71 L713.58,328.22 L712.32,326.68 L711.13,325.09 L709.99,323.45 L708.93,321.77 L707.92,320.05" stroke-width="1.0" fill="none" />
<path d="M699.25,316.43 L699.41,316.71 L699.63,316.93 L699.90,317.09 L700.21,317.17 L700.52,317.17 L700.83,317.09 L706.54,314.67 L706.81,314.52 L707.03,314.30 L707.18,314.03 L707.26,313.73 L707.26,313.41 L707.18,313.11 L707.18,313.11 L707.18,313.10 L706.76,311.99 L706.75,311.97 L706.36,310.86 L706.35,310.84 L705.99,309.72 L705.98,309.70 L705.65,308.57 L705.64,308.56 L705.33,307.41 L705.33,307.40 L705.05,306.25 L705.05,306.24 L704.79,305.08 L704.79,305.07 L704.57,303.90 L704.56,303.89 L704.37,302.72 L704.37,302.71 L704.20,301.54 L704.20,301.52 L704.06,300.35 L704.06,300.33 L703.95,299.15 L703.95,299.14 L703.87,297.96 L703.87,297.94 L703.82,296.76 L703.82,296.74 L703.82,296.74 L703.78,296.43 L703.65,296.15 L703.46,295.90 L703.21,295.72 L702.92,295.60 L702.62,295.56 L696.42,295.59 L696.10,295.64 L695.81,295.76 L695.56,295.95 L695.37,296.21 L695.26,296.50 L695.22,296.81 L695.23,296.99 L695.23,297.02 L695.28,298.40 L695.29,298.43 L695.38,299.81 L695.38,299.84 L695.51,301.21 L695.51,301.24 L695.67,302.62 L695.67,302.64 L695.87,304.01 L695.87,304.04 L696.10,305.40 L696.10,305.43 L696.37,306.79 L696.37,306.82 L696.67,308.16 L696.67,308.19 L697.00,309.53 L697.01,309.56 L697.37,310.90 L697.38,310.92 L697.77,312.25 L697.78,312.28 L698.20,313.59 L698.21,313.62 L698.67,314.92 L698.68,314.95 L699.17,316.24 L699.18,316.27 Z" stroke-width="1.8" fill="none" />
<path d="M705.01,313.87 L704.40,312.24 L703.85,310.59 L703.36,308.92 L702.92,307.23 L702.54,305.53 L702.22,303.82 L701.96,302.10 L701.75,300.37 L701.61,298.64 L701.53,296.90" stroke-width="1.0" fill="none" />
<path d="M696.24,284.47 L696.22,284.78 L696.29,285.09 L696.43,285.37 L696.65,285.60 L696.91,285.77 L697.22,285.87 L703.33,286.91 L703.64,286.92 L703.94,286.86 L704.22,286.71 L704.45,286.50 L704.61,286.24 L704.71,285.95 L704.71,285.94 L704.71,285.93 L704.96,284.77 L704.96,284.75 L705.23,283.60 L705.23,283.59 L705.53,282.44 L705.54,282.43 L705.86,281.29 L705.87,281.28 L706.22,280.15 L706.23,280.13 L706.61,279.01 L706.62,279.00 L707.03,277.89 L707.03,277.88 L707.47,276.78 L707.47,276.76 L707.94,275.68 L707.94,275.66 L708.44,274.59 L708.44,274.57 L708.96,273.51 L708.97,273.49 L709.51,272.44 L709.52,272.43 L710.09,271.39 L710.09,271.38 L710.69,270.36 L710.70,270.34 L710.70,270.34 L710.83,270.06 L710.88,269.75 L710.85,269.44 L710.74,269.15 L710.56,268.90 L710.32,268.70 L705.08,265.38 L704.79,265.25 L704.48,265.20 L704.17,265.23 L703.87,265.34 L703.61,265.53 L703.41,265.77 L703.32,265.92 L703.30,265.95 L702.61,267.14 L702.60,267.17 L701.93,268.38 L701.92,268.40 L701.28,269.63 L701.27,269.66 L700.67,270.90 L700.65,270.93 L700.08,272.18 L700.07,272.21 L699.53,273.48 L699.52,273.50 L699.00,274.79 L698.99,274.82 L698.52,276.11 L698.51,276.14 L698.06,277.44 L698.05,277.47 L697.63,278.79 L697.63,278.82 L697.24,280.14 L697.24,280.17 L696.89,281.51 L696.88,281.54 L696.56,282.88 L696.56,282.91 L696.28,284.26 L696.27,284.29 Z" stroke-width="1.8" fill="none" />
<path d="M702.47,285.41 L702.84,283.71 L703.26,282.02 L703.74,280.35 L704.28,278.69 L704.88,277.06 L705.53,275.44 L706.24,273.85 L707.00,272.29 L707.81,270.75 L708.68,269.24" stroke-width="1.0" fill="none" />
<path d="M707.46,259.91 L707.30,260.19 L707.22,260.49 L707.22,260.81 L707.31,261.11 L707.46,261.39 L707.69,261.61 L712.64,265.34 L712.91,265.49 L713.21,265.57 L713.52,265.57 L713.82,265.49 L714.09,265.34 L714.31,265.12 L714.41,264.99 L714.42,264.98 L715.26,263.95 L715.27,263.94 L716.14,262.94 L716.15,262.92 L717.05,261.94 L717.07,261.93 L717.99,260.98 L718.00,260.97 L718.96,260.04 L718.97,260.03 L719.95,259.13 L719.96,259.11 L720.96,258.24 L720.97,258.23 L722.00,257.38 L722.01,257.37 L723.06,256.56 L723.07,256.55 L724.15,255.76 L724.16,255.75 L725.25,254.99 L725.27,254.98 L726.38,254.25 L726.39,254.24 L727.53,253.55 L727.54,253.54 L728.69,252.87 L728.71,252.87 L728.84,252.79 L729.09,252.61 L729.29,252.37 L729.42,252.09 L729.47,251.78 L729.44,251.47 L729.34,251.18 L726.46,245.69 L726.28,245.43 L726.04,245.23 L725.75,245.10 L725.44,245.04 L725.12,245.08 L724.83,245.19 L724.52,245.35 L724.49,245.37 L723.15,246.15 L723.12,246.16 L721.80,246.98 L721.77,246.99 L720.47,247.84 L720.44,247.86 L719.17,248.74 L719.14,248.76 L717.89,249.68 L717.86,249.70 L716.64,250.66 L716.61,250.68 L715.42,251.66 L715.39,251.69 L714.22,252.71 L714.20,252.73 L713.06,253.78 L713.03,253.80 L711.92,254.89 L711.90,254.91 L710.82,256.02 L710.79,256.05 L709.75,257.19 L709.72,257.21 L708.71,258.39 L708.68,258.41 L707.70,259.61 L707.68,259.64 Z" stroke-width="1.8" fill="none" />
<path d="M712.57,263.61 L713.83,262.08 L715.16,260.60 L716.55,259.17 L717.99,257.80 L719.48,256.48 L721.02,255.22 L722.61,254.03 L724.25,252.89 L725.93,251.83 L727.65,250.82" stroke-width="1.0" fill="none" />
<path d="M731.27,242.15 L730.99,242.31 L730.77,242.53 L730.61,242.80 L730.53,243.11 L730.53,243.42 L730.61,243.73 L733.03,249.44 L733.18,249.71 L733.40,249.93 L733.67,250.08 L733.97,250.16 L734.29,250.16 L734.59,250.08 L734.59,250.08 L734.60,250.08 L735.71,249.66 L735.73,249.65 L736.84,249.26 L736.86,249.25 L737.98,248.89 L738.00,248.88 L739.13,248.55 L739.14,248.54 L740.29,248.23 L740.30,248.23 L741.45,247.95 L741.46,247.95 L742.62,247.69 L742.63,247.69 L743.80,247.47 L743.81,247.46 L744.98,247.27 L744.99,247.27 L746.16,247.10 L746.18,247.10 L747.35,246.96 L747.37,246.96 L748.55,246.85 L748.56,246.85 L749.74,246.77 L749.76,246.77 L750.94,246.72 L750.96,246.72 L750.96,246.72 L751.27,246.68 L751.55,246.55 L751.80,246.36 L751.98,246.11 L752.10,245.82 L752.14,245.52 L752.11,239.32 L752.06,239.00 L751.94,238.71 L751.75,238.46 L751.49,238.27 L751.20,238.16 L750.89,238.12 L750.71,238.13 L750.68,238.13 L749.30,238.18 L749.27,238.19 L747.89,238.28 L747.86,238.28 L746.49,238.41 L746.46,238.41 L745.08,238.57 L745.06,238.57 L743.69,238.77 L743.66,238.77 L742.30,239.00 L742.27,239.00 L740.91,239.27 L740.88,239.27 L739.54,239.57 L739.51,239.57 L738.17,239.90 L738.14,239.91 L736.80,240.27 L736.78,240.28 L735.45,240.67 L735.42,240.68 L734.11,241.10 L734.08,241.11 L732.78,241.57 L732.75,241.58 L731.46,242.07 L731.43,242.08 Z" stroke-width="1.8" fill="none" />
<path d="M733.83,247.91 L735.46,247.30 L737.11,246.75 L738.78,246.26 L740.47,245.82 L742.17,245.44 L743.88,245.12 L745.60,244.86 L747.33,244.65 L749.06,244.51 L750.80,244.43" stroke-width="1.0" fill="none" />
<rect x="-4.70" y="-8.80" width="9.4" height="17.6" rx="4.6" stroke-width="1.3" fill="#fff" transform="translate(757.09,238.29) rotate(4.7)"/>
<rect x="-4.70" y="-8.80" width="9.4" height="17.6" rx="4.6" stroke-width="1.3" fill="#fff" transform="translate(809.41,299.99) rotate(94.7)"/>
<rect x="-4.70" y="-8.80" width="9.4" height="17.6" rx="4.6" stroke-width="1.3" fill="#fff" transform="translate(747.71,352.31) rotate(184.7)"/>
<rect x="-4.70" y="-8.80" width="9.4" height="17.6" rx="4.6" stroke-width="1.3" fill="#fff" transform="translate(695.39,290.61) rotate(274.7)"/>
<circle cx="752.40" cy="295.30" r="45.00" stroke-width="1.1" fill="none"/>
<circle cx="752.40" cy="295.30" r="40.60" stroke-width="1.1" fill="none"/>
<path d="M751.00,275.35 L749.57,254.80 M756.22,275.67 L760.15,255.45 M761.17,277.32 L770.20,258.81 M765.52,280.21 L779.04,264.66 M768.98,284.12 L786.06,272.60 M771.31,288.79 L790.79,282.08 M772.35,293.90 L792.90,292.47 M772.03,299.12 L792.25,303.05 M770.38,304.07 L788.89,313.10 M767.49,308.42 L783.04,321.94 M763.58,311.88 L775.10,328.96 M758.91,314.21 L765.62,333.69 M753.80,315.25 L755.23,335.80 M748.58,314.93 L744.65,335.15 M743.63,313.28 L734.60,331.79 M739.28,310.39 L725.76,325.94 M735.82,306.48 L718.74,318.00 M733.49,301.81 L714.01,308.52 M732.45,296.70 L711.90,298.13 M732.77,291.48 L712.55,287.55 M734.42,286.53 L715.91,277.50 M737.31,282.18 L721.76,268.66 M741.22,278.72 L729.70,261.64 M745.89,276.39 L739.18,256.91" stroke-width="1.0" fill="none" />
<circle cx="752.40" cy="295.30" r="19.60" stroke-width="2.0" fill="#fff"/>
<circle cx="752.40" cy="295.30" r="17.40" stroke-width="1.0" fill="none"/>
<line x1="738.80" y1="284.50" x2="766.00" y2="284.50" stroke-width="1"/>
<line x1="739.20" y1="306.50" x2="765.60" y2="306.50" stroke-width="1"/>
<rect x="751.80" y="294.70" width="1.20" height="1.20" rx="0" stroke-width="0" fill="#000"/>
<rect x="-3.00" y="-3.00" width="6.0" height="6.0" rx="1.2" stroke="none" fill="#000" transform="translate(815.41,310.43) rotate(193.5)"/>
<rect x="-2.00" y="-2.30" width="4.0" height="4.6" rx="1.2" stroke="none" fill="#000" transform="translate(812.82,317.89) rotate(200.5)"/>
<rect x="-1.80" y="-2.30" width="3.6" height="4.6" rx="1.2" stroke="none" fill="#000" transform="translate(811.09,322.05) rotate(204.5)"/>
<rect x="-1.80" y="-2.30" width="3.6" height="4.6" rx="1.2" stroke="none" fill="#000" transform="translate(809.19,325.88) rotate(208.3)"/>
<rect x="-1.70" y="-2.30" width="3.4" height="4.6" rx="1.2" stroke="none" fill="#000" transform="translate(807.10,329.48) rotate(212.0)"/>
<rect x="-1.80" y="-2.30" width="3.6" height="4.6" rx="1.2" stroke="none" fill="#000" transform="translate(778.63,354.22) rotate(246.0)"/>
<rect x="-1.80" y="-2.30" width="3.6" height="4.6" rx="1.2" stroke="none" fill="#000" transform="translate(774.67,355.83) rotate(249.8)"/>
<rect x="-1.80" y="-2.30" width="3.6" height="4.6" rx="1.2" stroke="none" fill="#000" transform="translate(770.72,357.14) rotate(253.5)"/>
<rect x="-1.50" y="-2.30" width="3.0" height="4.6" rx="1.2" stroke="none" fill="#000" transform="translate(767.13,358.10) rotate(256.8)"/>
<rect x="-3.00" y="-3.00" width="6.0" height="6.0" rx="1.2" stroke="none" fill="#000" transform="translate(760.07,359.64) rotate(263.2)"/>
<path d="M786.5,346.8 L800.0,336.6 L798.6,334.4 L804.2,334.4 L802.6,339.8 L801.2,338.2 L787.8,348.6 Z" stroke-width="1.0" fill="none" />
</g>
<g id="rightdims">
<line x1="648.50" y1="131.30" x2="648.50" y2="178.80" stroke-width="1"/>
<line x1="837.50" y1="131.30" x2="837.50" y2="178.80" stroke-width="1"/>
<line x1="961.50" y1="131.30" x2="961.50" y2="178.80" stroke-width="1"/>
<line x1="648.60" y1="141.50" x2="727.50" y2="141.50" stroke-width="1"/>
<line x1="758.80" y1="141.50" x2="837.50" y2="141.50" stroke-width="1"/>
<line x1="837.50" y1="141.50" x2="883.90" y2="141.50" stroke-width="1"/>
<line x1="916.30" y1="141.50" x2="961.30" y2="141.50" stroke-width="1"/>
<path d="M662.60,145.00 L648.60,141.20 L662.60,137.40" stroke-width="1.0" fill="none" />
<path d="M648.60,141.20 L653.10,142.40 L653.10,140.00 Z" stroke-width="0.6" fill="#000" />
<path d="M823.50,137.40 L837.50,141.20 L823.50,145.00" stroke-width="1.0" fill="none" />
<path d="M837.50,141.20 L833.00,140.00 L833.00,142.40 Z" stroke-width="0.6" fill="#000" />
<path d="M851.50,145.00 L837.50,141.20 L851.50,137.40" stroke-width="1.0" fill="none" />
<path d="M837.50,141.20 L842.00,142.40 L842.00,140.00 Z" stroke-width="0.6" fill="#000" />
<path d="M947.30,137.40 L961.30,141.20 L947.30,145.00" stroke-width="1.0" fill="none" />
<path d="M961.30,141.20 L956.80,140.00 L956.80,142.40 Z" stroke-width="0.6" fill="#000" />
<g transform="translate(743.25,142.30) rotate(0) scale(0.4149,0.9688)"><text x="0" y="14.76" text-anchor="middle" font-size="45.0" font-weight="normal" stroke="#000" stroke-width="0.75" vector-effect="non-scaling-stroke" stroke-linejoin="miter" fill="#000">M</text></g>
<g transform="translate(899.80,142.20) rotate(0) scale(0.4801,0.9688)"><text x="0" y="14.76" text-anchor="middle" font-size="45.0" font-weight="normal" stroke="#000" stroke-width="0.75" vector-effect="non-scaling-stroke" stroke-linejoin="miter" fill="#000">N</text></g>
<line x1="547.70" y1="174.50" x2="648.00" y2="174.50" stroke-width="1"/>
<line x1="547.70" y1="417.50" x2="648.00" y2="417.50" stroke-width="1"/>
<line x1="556.50" y1="174.50" x2="556.50" y2="279.70" stroke-width="1"/>
<line x1="556.50" y1="312.00" x2="556.50" y2="417.50" stroke-width="1"/>
<path d="M552.80,188.50 L556.60,174.50 L560.40,188.50" stroke-width="1.0" fill="none" />
<path d="M556.60,174.50 L555.40,179.00 L557.80,179.00 Z" stroke-width="0.6" fill="#000" />
<path d="M560.40,403.50 L556.60,417.50 L552.80,403.50" stroke-width="1.0" fill="none" />
<path d="M556.60,417.50 L557.80,413.00 L555.40,413.00 Z" stroke-width="0.6" fill="#000" />
<g transform="translate(556.50,296.55) rotate(-90) scale(0.5171,0.9688)"><text x="0" y="14.76" text-anchor="middle" font-size="45.0" font-weight="normal" stroke="#000" stroke-width="0.75" vector-effect="non-scaling-stroke" stroke-linejoin="miter" fill="#000">H</text></g>
<line x1="587.00" y1="185.50" x2="640.80" y2="185.50" stroke-width="1"/>
<line x1="587.00" y1="405.50" x2="640.80" y2="405.50" stroke-width="1"/>
<line x1="600.50" y1="185.40" x2="600.50" y2="279.70" stroke-width="1"/>
<line x1="600.50" y1="311.00" x2="600.50" y2="405.50" stroke-width="1"/>
<path d="M596.80,199.40 L600.60,185.40 L604.40,199.40" stroke-width="1.0" fill="none" />
<path d="M600.60,185.40 L599.40,189.90 L601.80,189.90 Z" stroke-width="0.6" fill="#000" />
<path d="M604.40,391.50 L600.60,405.50 L596.80,391.50" stroke-width="1.0" fill="none" />
<path d="M600.60,405.50 L601.80,401.00 L599.40,401.00 Z" stroke-width="0.6" fill="#000" />
<g transform="translate(600.50,296.90) rotate(-90) scale(0.8569,1.1247)"><text x="0" y="14.76" text-anchor="middle" font-size="45.0" font-weight="normal" stroke="#000" stroke-width="0.75" vector-effect="non-scaling-stroke" stroke-linejoin="miter" fill="#000">J</text></g>
<line x1="636.50" y1="406.00" x2="636.50" y2="503.00" stroke-width="1"/>
<line x1="973.50" y1="406.00" x2="973.50" y2="503.00" stroke-width="1"/>
<line x1="752.50" y1="307.30" x2="752.50" y2="458.00" stroke-width="1"/>
<line x1="919.50" y1="303.00" x2="919.50" y2="458.00" stroke-width="1"/>
<line x1="636.50" y1="449.50" x2="677.60" y2="449.50" stroke-width="1"/>
<line x1="709.00" y1="449.50" x2="752.40" y2="449.50" stroke-width="1"/>
<line x1="752.40" y1="449.50" x2="818.80" y2="449.50" stroke-width="1"/>
<line x1="850.80" y1="449.50" x2="919.70" y2="449.50" stroke-width="1"/>
<path d="M650.50,453.30 L636.50,449.50 L650.50,445.70" stroke-width="1.0" fill="none" />
<path d="M636.50,449.50 L641.00,450.70 L641.00,448.30 Z" stroke-width="0.6" fill="#000" />
<path d="M738.40,445.70 L752.40,449.50 L738.40,453.30" stroke-width="1.0" fill="none" />
<path d="M752.40,449.50 L747.90,448.30 L747.90,450.70 Z" stroke-width="0.6" fill="#000" />
<path d="M766.40,453.30 L752.40,449.50 L766.40,445.70" stroke-width="1.0" fill="none" />
<path d="M752.40,449.50 L756.90,450.70 L756.90,448.30 Z" stroke-width="0.6" fill="#000" />
<path d="M905.70,445.70 L919.70,449.50 L905.70,453.30" stroke-width="1.0" fill="none" />
<path d="M919.70,449.50 L915.20,448.30 L915.20,450.70 Z" stroke-width="0.6" fill="#000" />
<line x1="636.50" y1="492.50" x2="791.40" y2="492.50" stroke-width="1"/>
<line x1="818.80" y1="492.50" x2="973.50" y2="492.50" stroke-width="1"/>
<path d="M650.50,495.80 L636.50,492.00 L650.50,488.20" stroke-width="1.0" fill="none" />
<path d="M636.50,492.00 L641.00,493.20 L641.00,490.80 Z" stroke-width="0.6" fill="#000" />
<path d="M959.50,488.20 L973.50,492.00 L959.50,495.80" stroke-width="1.0" fill="none" />
<path d="M973.50,492.00 L969.00,490.80 L969.00,493.20 Z" stroke-width="0.6" fill="#000" />
<g transform="translate(694.45,450.60) rotate(0) scale(0.4955,0.9688)"><text x="0" y="14.76" text-anchor="middle" font-size="45.0" font-weight="normal" stroke="#000" stroke-width="0.75" vector-effect="non-scaling-stroke" stroke-linejoin="miter" fill="#000">K</text></g>
<g transform="translate(835.90,450.60) rotate(0) scale(0.6147,0.9688)"><text x="0" y="14.76" text-anchor="middle" font-size="45.0" font-weight="normal" stroke="#000" stroke-width="0.75" vector-effect="non-scaling-stroke" stroke-linejoin="miter" fill="#000">L</text></g>
<g transform="translate(805.45,493.35) rotate(0) scale(0.7875,0.9688)"><text x="0" y="14.76" text-anchor="middle" font-size="45.0" font-weight="normal" stroke="#000" stroke-width="0.75" vector-effect="non-scaling-stroke" stroke-linejoin="miter" fill="#000">I</text></g>
</g>
</svg>
</body></html>
